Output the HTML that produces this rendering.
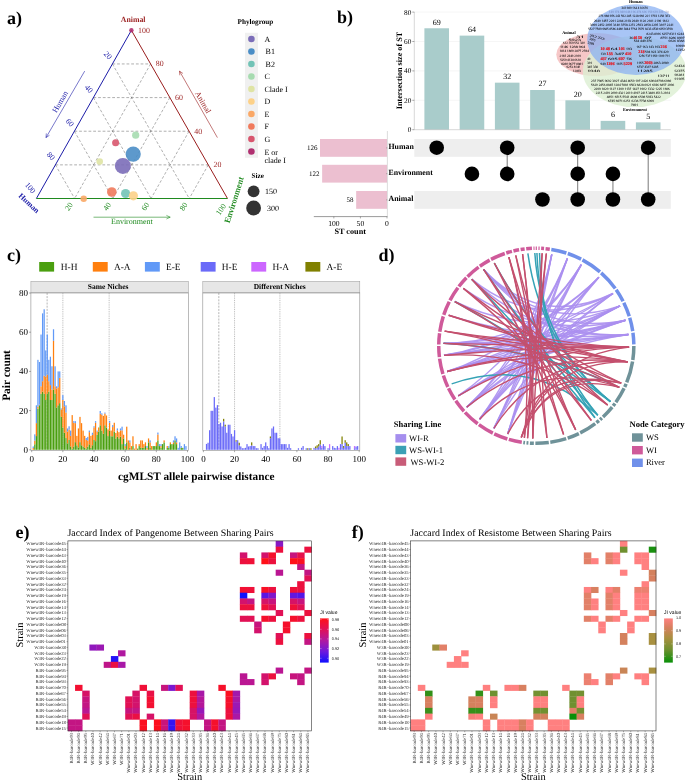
<!DOCTYPE html>
<html><head><meta charset="utf-8"><title>Figure</title>
<style>
html,body{margin:0;padding:0;background:#fff;}
body{width:685px;height:781px;overflow:hidden;font-family:"Liberation Serif",serif;}
svg{display:block;will-change:transform;}
text{text-rendering:geometricPrecision;}
text.s{font-family:"Liberation Serif",serif;}
text.n{font-family:"Liberation Sans",sans-serif;}
</style></head><body>
<svg width="685" height="781" viewBox="0 0 685 781">
<rect x="0" y="0" width="685" height="781" fill="#fff"/>
<g id="panel-a">
<text class="s" x="7.00" y="24.00" font-size="18" font-weight="bold">a)</text>
<line x1="55.40" y1="164.86" x2="208.28" y2="164.86" stroke="#6e6e6e" stroke-width="0.55" stroke-dasharray="2.8 1.9"/>
<line x1="112.40" y1="63.94" x2="189.28" y2="198.50" stroke="#6e6e6e" stroke-width="0.55" stroke-dasharray="2.8 1.9"/>
<line x1="150.62" y1="63.94" x2="74.62" y2="198.50" stroke="#6e6e6e" stroke-width="0.55" stroke-dasharray="2.8 1.9"/>
<line x1="74.40" y1="131.22" x2="189.06" y2="131.22" stroke="#6e6e6e" stroke-width="0.55" stroke-dasharray="2.8 1.9"/>
<line x1="93.40" y1="97.58" x2="151.06" y2="198.50" stroke="#6e6e6e" stroke-width="0.55" stroke-dasharray="2.8 1.9"/>
<line x1="169.84" y1="97.58" x2="112.84" y2="198.50" stroke="#6e6e6e" stroke-width="0.55" stroke-dasharray="2.8 1.9"/>
<line x1="93.40" y1="97.58" x2="169.84" y2="97.58" stroke="#6e6e6e" stroke-width="0.55" stroke-dasharray="2.8 1.9"/>
<line x1="74.40" y1="131.22" x2="112.84" y2="198.50" stroke="#6e6e6e" stroke-width="0.55" stroke-dasharray="2.8 1.9"/>
<line x1="189.06" y1="131.22" x2="151.06" y2="198.50" stroke="#6e6e6e" stroke-width="0.55" stroke-dasharray="2.8 1.9"/>
<line x1="112.40" y1="63.94" x2="150.62" y2="63.94" stroke="#6e6e6e" stroke-width="0.55" stroke-dasharray="2.8 1.9"/>
<line x1="55.40" y1="164.86" x2="74.62" y2="198.50" stroke="#6e6e6e" stroke-width="0.55" stroke-dasharray="2.8 1.9"/>
<line x1="208.28" y1="164.86" x2="189.28" y2="198.50" stroke="#6e6e6e" stroke-width="0.55" stroke-dasharray="2.8 1.9"/>
<line x1="36.4" y1="198.5" x2="131.4" y2="30.3" stroke="#1c1ca8" stroke-width="1.0"/>
<line x1="131.4" y1="30.3" x2="227.5" y2="198.5" stroke="#9a1e1e" stroke-width="1.0"/>
<line x1="36.4" y1="198.5" x2="227.5" y2="198.5" stroke="#1f8a1f" stroke-width="1.0"/>
<text class="s" x="107.80" y="55.34" font-size="7.9" text-anchor="middle" fill="#1c1ca8" transform="rotate(50.00 107.80 55.34)" dominant-baseline="central">20</text>
<text class="s" x="88.80" y="88.98" font-size="7.9" text-anchor="middle" fill="#1c1ca8" transform="rotate(50.00 88.80 88.98)" dominant-baseline="central">40</text>
<text class="s" x="69.80" y="122.62" font-size="7.9" text-anchor="middle" fill="#1c1ca8" transform="rotate(50.00 69.80 122.62)" dominant-baseline="central">60</text>
<text class="s" x="50.80" y="156.26" font-size="7.9" text-anchor="middle" fill="#1c1ca8" transform="rotate(50.00 50.80 156.26)" dominant-baseline="central">80</text>
<text class="s" x="30.20" y="188.00" font-size="7.9" text-anchor="middle" fill="#1c1ca8" transform="rotate(50.00 30.20 188.00)" dominant-baseline="central">100</text>
<text class="s" x="138.00" y="32.60" font-size="7.9" fill="#9a1e1e">100</text>
<text class="s" x="155.82" y="66.24" font-size="7.9" fill="#9a1e1e">80</text>
<text class="s" x="175.04" y="99.88" font-size="7.9" fill="#9a1e1e">60</text>
<text class="s" x="194.26" y="133.52" font-size="7.9" fill="#9a1e1e">40</text>
<text class="s" x="213.48" y="167.16" font-size="7.9" fill="#9a1e1e">20</text>
<text class="s" x="69.02" y="206.70" font-size="7.9" text-anchor="middle" fill="#1f8a1f" transform="rotate(-56.00 69.02 206.70)" dominant-baseline="central">20</text>
<text class="s" x="107.24" y="206.70" font-size="7.9" text-anchor="middle" fill="#1f8a1f" transform="rotate(-56.00 107.24 206.70)" dominant-baseline="central">40</text>
<text class="s" x="145.46" y="206.70" font-size="7.9" text-anchor="middle" fill="#1f8a1f" transform="rotate(-56.00 145.46 206.70)" dominant-baseline="central">60</text>
<text class="s" x="183.68" y="206.70" font-size="7.9" text-anchor="middle" fill="#1f8a1f" transform="rotate(-56.00 183.68 206.70)" dominant-baseline="central">80</text>
<text class="s" x="221.10" y="209.50" font-size="7.9" text-anchor="middle" fill="#1f8a1f" transform="rotate(-56.00 221.10 209.50)" dominant-baseline="central">100</text>
<text class="s" x="133.20" y="19.20" font-size="7.8" font-weight="bold" text-anchor="middle" fill="#9a1e1e" dominant-baseline="central">Animal</text>
<text class="s" x="29.00" y="203.20" font-size="7.8" font-weight="bold" text-anchor="middle" fill="#1c1ca8" transform="rotate(43.00 29.00 203.20)" dominant-baseline="central">Human</text>
<text class="s" x="233.90" y="199.80" font-size="8.5" font-weight="bold" text-anchor="middle" fill="#1f8a1f" transform="rotate(-72.50 233.90 199.80)" dominant-baseline="central">Environment</text>
<line x1="84.70" y1="71.10" x2="46.00" y2="137.60" stroke="#1c1ca8" stroke-width="0.6"/>
<line x1="46.00" y1="137.60" x2="49.48" y2="135.25" stroke="#1c1ca8" stroke-width="0.55"/>
<line x1="46.00" y1="137.60" x2="46.32" y2="133.41" stroke="#1c1ca8" stroke-width="0.55"/>
<text class="s" x="60.30" y="101.80" font-size="8.0" text-anchor="middle" fill="#1c1ca8" transform="rotate(-60.00 60.30 101.80)" dominant-baseline="central">Human</text>
<line x1="217.40" y1="137.60" x2="179.50" y2="71.10" stroke="#9a1e1e" stroke-width="0.6"/>
<line x1="179.50" y1="71.10" x2="179.79" y2="75.29" stroke="#9a1e1e" stroke-width="0.55"/>
<line x1="179.50" y1="71.10" x2="182.96" y2="73.48" stroke="#9a1e1e" stroke-width="0.55"/>
<text class="s" x="203.00" y="102.40" font-size="8.0" text-anchor="middle" fill="#9a1e1e" transform="rotate(60.00 203.00 102.40)" dominant-baseline="central">Animal</text>
<line x1="93.50" y1="217.20" x2="170.20" y2="217.20" stroke="#1f8a1f" stroke-width="0.6"/>
<line x1="170.20" y1="217.20" x2="166.42" y2="215.37" stroke="#1f8a1f" stroke-width="0.55"/>
<line x1="170.20" y1="217.20" x2="166.42" y2="219.03" stroke="#1f8a1f" stroke-width="0.55"/>
<text class="s" x="131.90" y="221.90" font-size="8.0" text-anchor="middle" fill="#1f8a1f" dominant-baseline="central">Environment</text>
<circle cx="131.4" cy="30.30" r="2.2" fill="#b03070" fill-opacity="0.9"/>
<circle cx="135.7" cy="135.20" r="3.6" fill="#a6dbb0" fill-opacity="0.9"/>
<circle cx="115.6" cy="142.80" r="3.5" fill="#d8566e" fill-opacity="0.9"/>
<circle cx="99.7" cy="161.60" r="3.3" fill="#dfe4a4" fill-opacity="0.9"/>
<circle cx="133.2" cy="154.10" r="7.6" fill="#4b8ec6" fill-opacity="0.9"/>
<circle cx="122.9" cy="165.90" r="8.0" fill="#7b6db8" fill-opacity="0.9"/>
<circle cx="111.8" cy="192.00" r="4.8" fill="#f07a5c" fill-opacity="0.9"/>
<circle cx="125.6" cy="193.50" r="4.6" fill="#72c3b6" fill-opacity="0.9"/>
<circle cx="133.4" cy="195.80" r="4.6" fill="#fdd188" fill-opacity="0.9"/>
<circle cx="83.7" cy="198.80" r="3.2" fill="#faa866" fill-opacity="0.9"/>
<text class="s" x="237.50" y="24.30" font-size="7.2" font-weight="bold">Phylogroup</text>
<rect x="245" y="32.8" width="13" height="125" fill="#f0f0f0"/>
<circle cx="251.4" cy="39.00" r="3.3" fill="#7b6db8"/>
<text class="s" x="264.40" y="41.60" font-size="8">A</text>
<circle cx="251.4" cy="51.50" r="3.3" fill="#4b8ec6"/>
<text class="s" x="265.60" y="54.10" font-size="8">B1</text>
<circle cx="251.4" cy="64.00" r="3.3" fill="#72c3b6"/>
<text class="s" x="265.60" y="66.60" font-size="8">B2</text>
<circle cx="251.4" cy="76.50" r="3.3" fill="#a6dbb0"/>
<text class="s" x="264.40" y="79.10" font-size="8">C</text>
<circle cx="251.4" cy="89.00" r="3.3" fill="#dfe4a4"/>
<text class="s" x="264.40" y="91.60" font-size="8">Clade I</text>
<circle cx="251.4" cy="101.50" r="3.3" fill="#fdd188"/>
<text class="s" x="264.40" y="104.10" font-size="8">D</text>
<circle cx="251.4" cy="114.00" r="3.3" fill="#faa866"/>
<text class="s" x="264.40" y="116.60" font-size="8">E</text>
<circle cx="251.4" cy="126.50" r="3.3" fill="#f07a5c"/>
<text class="s" x="264.40" y="129.10" font-size="8">F</text>
<circle cx="251.4" cy="139.00" r="3.3" fill="#d8566e"/>
<text class="s" x="264.40" y="141.60" font-size="8">G</text>
<circle cx="251.4" cy="151.50" r="3.3" fill="#b03070"/>
<text class="s" x="264.40" y="155.00" font-size="8">E or</text>
<text class="s" x="264.40" y="162.50" font-size="8">clade I</text>
<text class="s" x="251.60" y="178.40" font-size="7.2" font-weight="bold">Size</text>
<circle cx="253.6" cy="191.3" r="5.9" fill="#333"/>
<circle cx="253.6" cy="208.0" r="7.4" fill="#333"/>
<text class="s" x="265.00" y="194.00" font-size="8">150</text>
<text class="s" x="267.00" y="210.70" font-size="8">300</text>
</g>
<g id="panel-b">
<text class="s" x="337.00" y="22.90" font-size="18" font-weight="bold">b)</text>
<line x1="414.3" y1="100.30" x2="670.8" y2="100.30" stroke="#ececec" stroke-width="0.5"/>
<line x1="414.3" y1="70.90" x2="670.8" y2="70.90" stroke="#ececec" stroke-width="0.5"/>
<line x1="414.3" y1="41.50" x2="670.8" y2="41.50" stroke="#ececec" stroke-width="0.5"/>
<line x1="414.3" y1="12.10" x2="670.8" y2="12.10" stroke="#ececec" stroke-width="0.5"/>
<rect x="424.40" y="28.27" width="24.6" height="101.43" fill="#a9cccb"/>
<text class="s" x="436.70" y="24.67" font-size="8.0" text-anchor="middle">69</text>
<rect x="459.65" y="35.62" width="24.6" height="94.08" fill="#a9cccb"/>
<text class="s" x="471.95" y="32.02" font-size="8.0" text-anchor="middle">64</text>
<rect x="494.90" y="82.66" width="24.6" height="47.04" fill="#a9cccb"/>
<text class="s" x="507.20" y="79.06" font-size="8.0" text-anchor="middle">32</text>
<rect x="530.15" y="90.01" width="24.6" height="39.69" fill="#a9cccb"/>
<text class="s" x="542.45" y="86.41" font-size="8.0" text-anchor="middle">27</text>
<rect x="565.40" y="100.30" width="24.6" height="29.40" fill="#a9cccb"/>
<text class="s" x="577.70" y="96.70" font-size="8.0" text-anchor="middle">20</text>
<rect x="600.65" y="120.88" width="24.6" height="8.82" fill="#a9cccb"/>
<text class="s" x="612.95" y="117.28" font-size="8.0" text-anchor="middle">6</text>
<rect x="635.90" y="122.35" width="24.6" height="7.35" fill="#a9cccb"/>
<text class="s" x="648.20" y="118.75" font-size="8.0" text-anchor="middle">5</text>
<line x1="414.3" y1="12" x2="414.3" y2="129.7" stroke="#bdbdbd" stroke-width="0.6"/>
<line x1="414.3" y1="129.7" x2="670.8" y2="129.7" stroke="#bdbdbd" stroke-width="0.6"/>
<line x1="412.3" y1="129.70" x2="414.3" y2="129.70" stroke="#555" stroke-width="0.5"/>
<text class="s" x="411.40" y="132.10" font-size="7.3" text-anchor="end">0</text>
<line x1="412.3" y1="100.30" x2="414.3" y2="100.30" stroke="#555" stroke-width="0.5"/>
<text class="s" x="411.40" y="102.70" font-size="7.3" text-anchor="end">20</text>
<line x1="412.3" y1="70.90" x2="414.3" y2="70.90" stroke="#555" stroke-width="0.5"/>
<text class="s" x="411.40" y="73.30" font-size="7.3" text-anchor="end">40</text>
<line x1="412.3" y1="41.50" x2="414.3" y2="41.50" stroke="#555" stroke-width="0.5"/>
<text class="s" x="411.40" y="43.90" font-size="7.3" text-anchor="end">60</text>
<line x1="412.3" y1="12.10" x2="414.3" y2="12.10" stroke="#555" stroke-width="0.5"/>
<text class="s" x="411.40" y="14.50" font-size="7.3" text-anchor="end">80</text>
<text class="s" x="399.60" y="70.50" font-size="8.2" font-weight="bold" text-anchor="middle" transform="rotate(-90.00 399.60 70.50)" dominant-baseline="central">Intersection size of ST</text>
<rect x="414.3" y="139" width="256.5" height="17.8" fill="#eeeeee"/>
<rect x="414.3" y="191" width="256.5" height="17.8" fill="#eeeeee"/>
<circle cx="436.70" cy="147.7" r="7.3" fill="#000"/>
<circle cx="471.95" cy="173.9" r="7.3" fill="#000"/>
<line x1="507.20" y1="147.7" x2="507.20" y2="173.9" stroke="#555" stroke-width="0.8"/>
<circle cx="507.20" cy="147.7" r="7.3" fill="#000"/>
<circle cx="507.20" cy="173.9" r="7.3" fill="#000"/>
<circle cx="542.45" cy="199.5" r="7.3" fill="#000"/>
<line x1="577.70" y1="147.7" x2="577.70" y2="199.5" stroke="#555" stroke-width="0.8"/>
<circle cx="577.70" cy="147.7" r="7.3" fill="#000"/>
<circle cx="577.70" cy="173.9" r="7.3" fill="#000"/>
<circle cx="577.70" cy="199.5" r="7.3" fill="#000"/>
<line x1="612.95" y1="173.9" x2="612.95" y2="199.5" stroke="#555" stroke-width="0.8"/>
<circle cx="612.95" cy="173.9" r="7.3" fill="#000"/>
<circle cx="612.95" cy="199.5" r="7.3" fill="#000"/>
<line x1="648.20" y1="147.7" x2="648.20" y2="199.5" stroke="#555" stroke-width="0.8"/>
<circle cx="648.20" cy="147.7" r="7.3" fill="#000"/>
<circle cx="648.20" cy="199.5" r="7.3" fill="#000"/>
<rect x="320.01" y="139.0" width="66.99" height="17.8" fill="#ecbfd0"/>
<text class="s" x="317.41" y="150.30" font-size="7" text-anchor="end">126</text>
<line x1="386.0" y1="147.9" x2="387.8" y2="147.9" stroke="#777" stroke-width="0.5"/>
<text class="s" x="388.50" y="148.90" font-size="7.85" font-weight="bold">Human</text>
<rect x="322.13" y="164.8" width="64.87" height="17.8" fill="#ecbfd0"/>
<text class="s" x="319.53" y="176.10" font-size="7" text-anchor="end">122</text>
<line x1="386.0" y1="173.70000000000002" x2="387.8" y2="173.70000000000002" stroke="#777" stroke-width="0.5"/>
<text class="s" x="388.50" y="174.70" font-size="7.85" font-weight="bold">Environment</text>
<rect x="356.16" y="191.0" width="30.84" height="17.8" fill="#ecbfd0"/>
<text class="s" x="353.56" y="202.30" font-size="7" text-anchor="end">58</text>
<line x1="386.0" y1="199.9" x2="387.8" y2="199.9" stroke="#777" stroke-width="0.5"/>
<text class="s" x="388.50" y="200.90" font-size="7.85" font-weight="bold">Animal</text>
<line x1="387.4" y1="131" x2="387.4" y2="216.6" stroke="#cfcfcf" stroke-width="0.7"/>
<line x1="313.8" y1="216.6" x2="387.4" y2="216.6" stroke="#555" stroke-width="0.6"/>
<line x1="387.00" y1="216.6" x2="387.00" y2="218.4" stroke="#555" stroke-width="0.5"/>
<text class="s" x="387.00" y="225.70" font-size="7.6" text-anchor="middle">0</text>
<line x1="360.42" y1="216.6" x2="360.42" y2="218.4" stroke="#555" stroke-width="0.5"/>
<text class="s" x="360.42" y="225.70" font-size="7.6" text-anchor="middle">50</text>
<line x1="333.83" y1="216.6" x2="333.83" y2="218.4" stroke="#555" stroke-width="0.5"/>
<text class="s" x="333.83" y="225.70" font-size="7.6" text-anchor="middle">100</text>
<text class="s" x="350.20" y="233.60" font-size="8.2" font-weight="bold" text-anchor="middle">ST count</text>
<g id="venn">
<ellipse cx="596.9" cy="54.6" rx="40.6" ry="21.6" fill="#f4b9b9" fill-opacity="0.8"/>
<ellipse cx="634.6" cy="71.5" rx="51.8" ry="35.6" fill="#dcefd2" fill-opacity="0.8"/>
<ellipse cx="636.0" cy="39.6" rx="48.8" ry="35.4" fill="#86aef3" fill-opacity="0.72"/>
<text class="s" x="635.80" y="2.90" font-size="4.25" font-weight="bold" text-anchor="middle">Human</text>
<text class="s" x="568.90" y="33.50" font-size="4.25" font-weight="bold" text-anchor="middle">Animal</text>
<text class="s" x="635.00" y="111.40" font-size="4.25" font-weight="bold" text-anchor="middle">Environment</text>
<text class="s" x="621.40" y="8.67" font-size="3.25" textLength="26.60" lengthAdjust="spacingAndGlyphs" stroke="#000" stroke-width="0.04">341 980 164 414 676</text>
<text class="s" x="609.00" y="12.87" font-size="3.25" fill="#44508c" textLength="59.90" lengthAdjust="spacingAndGlyphs" stroke="#44508c" stroke-width="0.04" opacity="0.5">149 174 940 648 196 474 696 159 619 319 138</text>
<text class="s" x="598.60" y="17.17" font-size="3.25" textLength="71.20" lengthAdjust="spacingAndGlyphs" stroke="#000" stroke-width="0.04">276 988 956 243 592 285 1228 969 221 1793 1258 353</text>
<text class="s" x="593.90" y="21.57" font-size="3.25" textLength="75.00" lengthAdjust="spacingAndGlyphs" stroke="#000" stroke-width="0.04">2940 1457 2291 2284 2193 2940 1126 2181 2199 1812</text>
<text class="s" x="590.10" y="26.07" font-size="3.25" textLength="83.50" lengthAdjust="spacingAndGlyphs" stroke="#000" stroke-width="0.04">3999 2452 2095 3140 3758 2272 2593 2858 2295 3107 2241</text>
<text class="s" x="588.20" y="30.47" font-size="3.25" textLength="84.40" lengthAdjust="spacingAndGlyphs" stroke="#000" stroke-width="0.04">5527 7589 9685 8586 4480 3844 7764 7679 8233 4539 6050 3798</text>
<text class="s" x="646.50" y="34.87" font-size="3.25" textLength="37.50" lengthAdjust="spacingAndGlyphs" stroke="#000" stroke-width="0.04">8243 8916 6257 8311 6244</text>
<text class="s" x="629.50" y="38.77" font-size="3.25" textLength="3.50" lengthAdjust="spacingAndGlyphs" stroke="#000" stroke-width="0.04">36</text>
<text class="s" x="644.50" y="38.77" font-size="3.25" textLength="7.00" lengthAdjust="spacingAndGlyphs" stroke="#000" stroke-width="0.04">97</text>
<text class="s" x="660.50" y="38.77" font-size="3.25" textLength="24.00" lengthAdjust="spacingAndGlyphs" stroke="#000" stroke-width="0.04">8751 8286 8907</text>
<text class="s" x="633.70" y="42.47" font-size="3.25" textLength="18.30" lengthAdjust="spacingAndGlyphs" stroke="#000" stroke-width="0.04">534 440 376</text>
<text class="s" x="668.50" y="42.47" font-size="3.25" textLength="16.00" lengthAdjust="spacingAndGlyphs" stroke="#000" stroke-width="0.04">9626 8368</text>
<text class="s" x="675.50" y="46.57" font-size="3.25" textLength="9.50" lengthAdjust="spacingAndGlyphs" stroke="#000" stroke-width="0.04">10999</text>
<text class="s" x="675.50" y="50.77" font-size="3.25" textLength="9.50" lengthAdjust="spacingAndGlyphs" stroke="#000" stroke-width="0.04">12352</text>
<text class="s" x="633.20" y="38.99" font-size="3.9" font-weight="bold" fill="#e8141c" stroke="#e8141c" stroke-width="0.18">46 58</text>
<text class="s" x="636.20" y="47.57" font-size="3.25" textLength="23.80" lengthAdjust="spacingAndGlyphs" stroke="#000" stroke-width="0.04">167 163 143 193</text>
<text class="s" x="660.60" y="47.89" font-size="4.2" font-weight="bold" fill="#e8141c" stroke="#e8141c" stroke-width="0.18">216</text>
<text class="s" x="638.30" y="52.99" font-size="4.2" font-weight="bold" fill="#e8141c" stroke="#e8141c" stroke-width="0.18">218</text>
<text class="s" x="645.00" y="52.67" font-size="3.25" textLength="23.50" lengthAdjust="spacingAndGlyphs" stroke="#000" stroke-width="0.04">594 923 374 420</text>
<text class="s" x="638.50" y="57.47" font-size="3.25" textLength="31.30" lengthAdjust="spacingAndGlyphs" stroke="#000" stroke-width="0.04">1256 737 1950 1100 711</text>
<text class="s" x="637.00" y="63.67" font-size="3.25" textLength="6.50" lengthAdjust="spacingAndGlyphs" stroke="#000" stroke-width="0.04">1955</text>
<text class="s" x="644.20" y="63.99" font-size="4.2" font-weight="bold" fill="#e8141c" stroke="#e8141c" stroke-width="0.18">2003</text>
<text class="s" x="653.50" y="63.67" font-size="3.25" textLength="15.00" lengthAdjust="spacingAndGlyphs" stroke="#000" stroke-width="0.04">2863 2080</text>
<text class="s" x="637.00" y="67.87" font-size="3.25" textLength="21.40" lengthAdjust="spacingAndGlyphs" stroke="#000" stroke-width="0.04">6737 4317 6285</text>
<text class="s" x="637.00" y="72.27" font-size="3.25" textLength="15.70" lengthAdjust="spacingAndGlyphs" stroke="#000" stroke-width="0.04">11285</text>
<text class="s" x="657.50" y="76.97" font-size="3.25" textLength="12.30" lengthAdjust="spacingAndGlyphs" stroke="#000" stroke-width="0.04">13711</text>
<text class="s" x="674.00" y="67.27" font-size="3.25" textLength="10.50" lengthAdjust="spacingAndGlyphs" stroke="#000" stroke-width="0.04">12434</text>
<text class="s" x="674.00" y="71.67" font-size="3.25" textLength="10.50" lengthAdjust="spacingAndGlyphs" stroke="#000" stroke-width="0.04">12375</text>
<text class="s" x="674.00" y="75.87" font-size="3.25" textLength="10.50" lengthAdjust="spacingAndGlyphs" stroke="#000" stroke-width="0.04">10281</text>
<text class="s" x="674.00" y="79.67" font-size="3.25" textLength="10.50" lengthAdjust="spacingAndGlyphs" stroke="#000" stroke-width="0.04">11105</text>
<text class="s" x="600.40" y="50.09" font-size="4.2" font-weight="bold" fill="#e8141c" stroke="#e8141c" stroke-width="0.18">10 48</text>
<text class="s" x="610.80" y="49.77" font-size="3.25" textLength="6.80" lengthAdjust="spacingAndGlyphs" stroke="#000" stroke-width="0.04">64</text>
<text class="s" x="618.60" y="50.09" font-size="4.2" font-weight="bold" fill="#e8141c" stroke="#e8141c" stroke-width="0.18">101</text>
<text class="s" x="626.00" y="49.77" font-size="3.25" textLength="6.00" lengthAdjust="spacingAndGlyphs" stroke="#000" stroke-width="0.04">193</text>
<text class="s" x="600.60" y="54.57" font-size="3.25" textLength="5.00" lengthAdjust="spacingAndGlyphs" stroke="#000" stroke-width="0.04">139</text>
<text class="s" x="606.60" y="54.89" font-size="4.2" font-weight="bold" fill="#e8141c" stroke="#e8141c" stroke-width="0.18">155</text>
<text class="s" x="614.40" y="54.57" font-size="3.25" textLength="9.80" lengthAdjust="spacingAndGlyphs" stroke="#000" stroke-width="0.04">347</text>
<text class="s" x="625.00" y="54.89" font-size="4.2" font-weight="bold" fill="#e8141c" stroke="#e8141c" stroke-width="0.18">410</text>
<text class="s" x="600.40" y="60.29" font-size="4.2" font-weight="bold" fill="#e8141c" stroke="#e8141c" stroke-width="0.18">457</text>
<text class="s" x="608.00" y="59.97" font-size="3.25" textLength="9.60" lengthAdjust="spacingAndGlyphs" stroke="#000" stroke-width="0.04">605</text>
<text class="s" x="618.60" y="60.29" font-size="4.2" font-weight="bold" fill="#e8141c" stroke="#e8141c" stroke-width="0.18">607</text>
<text class="s" x="626.40" y="59.97" font-size="3.25" textLength="5.60" lengthAdjust="spacingAndGlyphs" stroke="#000" stroke-width="0.04">736</text>
<text class="s" x="600.60" y="65.07" font-size="3.25" textLength="5.00" lengthAdjust="spacingAndGlyphs" stroke="#000" stroke-width="0.04">949</text>
<text class="s" x="606.40" y="65.39" font-size="4.2" font-weight="bold" fill="#e8141c" stroke="#e8141c" stroke-width="0.18">1196</text>
<text class="s" x="616.20" y="65.07" font-size="3.25" textLength="6.40" lengthAdjust="spacingAndGlyphs" stroke="#000" stroke-width="0.04">1655</text>
<text class="s" x="623.60" y="65.39" font-size="4.2" font-weight="bold" fill="#e8141c" stroke="#e8141c" stroke-width="0.18">5229</text>
<text class="s" x="576.30" y="37.67" font-size="3.25" textLength="8.10" lengthAdjust="spacingAndGlyphs" stroke="#000" stroke-width="0.04">31</text>
<text class="s" x="568.40" y="40.97" font-size="3.25" textLength="12.50" lengthAdjust="spacingAndGlyphs" stroke="#000" stroke-width="0.04">5923</text>
<text class="s" x="563.10" y="44.17" font-size="3.25" textLength="21.70" lengthAdjust="spacingAndGlyphs" stroke="#000" stroke-width="0.04">612 359 552 330</text>
<text class="s" x="559.90" y="47.67" font-size="3.25" textLength="25.30" lengthAdjust="spacingAndGlyphs" stroke="#000" stroke-width="0.04">1146 1288 964</text>
<text class="s" x="559.50" y="52.37" font-size="3.25" textLength="29.30" lengthAdjust="spacingAndGlyphs" stroke="#000" stroke-width="0.04">1814 1800 2877 2784</text>
<text class="s" x="559.50" y="56.67" font-size="3.25" textLength="21.40" lengthAdjust="spacingAndGlyphs" stroke="#000" stroke-width="0.04">2165 2340 2919</text>
<text class="s" x="560.20" y="60.67" font-size="3.25" textLength="20.70" lengthAdjust="spacingAndGlyphs" stroke="#000" stroke-width="0.04">5250 4138 6618</text>
<text class="s" x="561.20" y="64.87" font-size="3.25" textLength="21.70" lengthAdjust="spacingAndGlyphs" stroke="#000" stroke-width="0.04">8280 9677 8881</text>
<text class="s" x="566.40" y="68.47" font-size="3.25" textLength="13.80" lengthAdjust="spacingAndGlyphs" stroke="#000" stroke-width="0.04">9253 8140</text>
<text class="s" x="573.00" y="72.07" font-size="3.25" textLength="7.90" lengthAdjust="spacingAndGlyphs" stroke="#000" stroke-width="0.04">12893</text>
<text class="s" x="589.60" y="36.27" font-size="3.25" transform="rotate(14.00 589.60 36.27)" textLength="15.20" lengthAdjust="spacingAndGlyphs" stroke="#000" stroke-width="0.04">252 223</text>
<text class="s" x="589.40" y="39.87" font-size="3.25" transform="rotate(14.00 589.40 39.87)" textLength="5.90" lengthAdjust="spacingAndGlyphs" stroke="#000" stroke-width="0.04">2905</text>
<text class="s" x="587.50" y="43.57" font-size="3.25" transform="rotate(14.00 587.50 43.57)" textLength="6.50" lengthAdjust="spacingAndGlyphs" stroke="#000" stroke-width="0.04">3389</text>
<text class="s" x="587.20" y="59.57" font-size="3.25" textLength="3.20" lengthAdjust="spacingAndGlyphs" stroke="#000" stroke-width="0.04">49</text>
<text class="s" x="587.20" y="63.77" font-size="3.25" textLength="5.00" lengthAdjust="spacingAndGlyphs" stroke="#000" stroke-width="0.04">319</text>
<text class="s" x="587.20" y="67.87" font-size="3.25" textLength="10.80" lengthAdjust="spacingAndGlyphs" stroke="#000" stroke-width="0.04">345 338</text>
<text class="s" x="587.20" y="72.07" font-size="3.25" textLength="12.70" lengthAdjust="spacingAndGlyphs" stroke="#000" stroke-width="0.04">1948</text>
<text class="s" x="591.00" y="81.67" font-size="3.25" textLength="80.10" lengthAdjust="spacingAndGlyphs" stroke="#000" stroke-width="0.04">237 7985 9692 3027 4344 4659 107 2426 6904 8798 6089</text>
<text class="s" x="591.00" y="86.07" font-size="3.25" textLength="83.20" lengthAdjust="spacingAndGlyphs" stroke="#000" stroke-width="0.04">5620 2456 8845 1284 7881 9563 6828 6921 6936 6857 2096</text>
<text class="s" x="593.90" y="89.87" font-size="3.25" textLength="75.90" lengthAdjust="spacingAndGlyphs" stroke="#000" stroke-width="0.04">2299 1820 1127 1390 1137 1427 1902 1332 1225 1696</text>
<text class="s" x="595.80" y="94.07" font-size="3.25" textLength="74.00" lengthAdjust="spacingAndGlyphs" stroke="#000" stroke-width="0.04">2215 2419 2000 4321 2619 4197 2415 3489 4513 2104</text>
<text class="s" x="606.80" y="97.97" font-size="3.25" textLength="54.00" lengthAdjust="spacingAndGlyphs" stroke="#000" stroke-width="0.04">4851 6515 5541 4608 6598 5033 5422</text>
<text class="s" x="608.00" y="102.27" font-size="3.25" textLength="46.00" lengthAdjust="spacingAndGlyphs" stroke="#000" stroke-width="0.04">6745 6971 6251 6236 7738 6999</text>
<text class="s" x="631.00" y="105.97" font-size="3.25" textLength="7.00" lengthAdjust="spacingAndGlyphs" stroke="#000" stroke-width="0.04">7491</text>
</g>
</g>
<g id="panel-c">
<text class="s" x="7.00" y="261.20" font-size="18" font-weight="bold">c)</text>
<rect x="39.2" y="262.0" width="14.9" height="9.6" fill="#4a9f0f"/>
<text class="s" x="60.80" y="270.20" font-size="9.4">H-H</text>
<rect x="92.8" y="262.0" width="14.9" height="9.6" fill="#ff7f0e"/>
<text class="s" x="113.90" y="270.20" font-size="9.4">A-A</text>
<rect x="144.9" y="262.0" width="14.9" height="9.6" fill="#6199f7"/>
<text class="s" x="166.00" y="270.20" font-size="9.4">E-E</text>
<rect x="200.7" y="262.0" width="14.9" height="9.6" fill="#6a6af8"/>
<text class="s" x="221.80" y="270.20" font-size="9.4">H-E</text>
<rect x="251.3" y="262.0" width="14.9" height="9.6" fill="#cc66ff"/>
<text class="s" x="272.40" y="270.20" font-size="9.4">H-A</text>
<rect x="305.4" y="262.0" width="14.9" height="9.6" fill="#808000"/>
<text class="s" x="326.50" y="270.20" font-size="9.4">A-E</text>
<rect x="30.9" y="281.3" width="157.6" height="11.6" fill="#e6e6e6" stroke="#9a9a9a" stroke-width="0.5"/>
<text class="s" x="108.10" y="288.60" font-size="7.5" font-weight="bold" text-anchor="middle">Same Niches</text>
<rect x="202.8" y="281.3" width="157.0" height="11.6" fill="#e6e6e6" stroke="#9a9a9a" stroke-width="0.5"/>
<text class="s" x="279.70" y="288.60" font-size="7.5" font-weight="bold" text-anchor="middle">Different Niches</text>
<line x1="47.12" y1="292.9" x2="47.12" y2="449.8" stroke="#888" stroke-width="0.6" stroke-dasharray="2 1.2"/>
<line x1="62.86" y1="292.9" x2="62.86" y2="449.8" stroke="#888" stroke-width="0.6" stroke-dasharray="0.9 0.9"/>
<line x1="109.13" y1="292.9" x2="109.13" y2="449.8" stroke="#888" stroke-width="0.6" stroke-dasharray="0.9 0.9"/>
<line x1="218.82" y1="292.9" x2="218.82" y2="449.8" stroke="#888" stroke-width="0.6" stroke-dasharray="2 1.2"/>
<line x1="234.56" y1="292.9" x2="234.56" y2="449.8" stroke="#888" stroke-width="0.6" stroke-dasharray="0.9 0.9"/>
<line x1="279.90" y1="292.9" x2="279.90" y2="449.8" stroke="#888" stroke-width="0.6" stroke-dasharray="0.9 0.9"/>
<rect x="32.63" y="448.04" width="1.25" height="1.76" fill="#ff7f0e"/>
<rect x="32.63" y="446.47" width="1.25" height="1.57" fill="#6199f7"/>
<rect x="34.19" y="444.31" width="1.25" height="5.49" fill="#4a9f0f"/>
<rect x="34.19" y="440.59" width="1.25" height="3.72" fill="#ff7f0e"/>
<rect x="34.19" y="434.32" width="1.25" height="6.27" fill="#6199f7"/>
<rect x="35.75" y="436.08" width="1.25" height="13.72" fill="#4a9f0f"/>
<rect x="35.75" y="423.14" width="1.25" height="12.94" fill="#ff7f0e"/>
<rect x="35.75" y="405.31" width="1.25" height="17.84" fill="#6199f7"/>
<rect x="37.31" y="408.64" width="1.25" height="41.16" fill="#4a9f0f"/>
<rect x="37.31" y="406.68" width="1.25" height="1.96" fill="#ff7f0e"/>
<rect x="37.31" y="359.84" width="1.25" height="46.84" fill="#6199f7"/>
<rect x="38.87" y="405.31" width="1.25" height="44.49" fill="#4a9f0f"/>
<rect x="38.87" y="404.72" width="1.25" height="0.59" fill="#ff7f0e"/>
<rect x="38.87" y="361.99" width="1.25" height="42.73" fill="#6199f7"/>
<rect x="40.42" y="393.74" width="1.25" height="56.06" fill="#4a9f0f"/>
<rect x="40.42" y="386.30" width="1.25" height="7.45" fill="#ff7f0e"/>
<rect x="40.42" y="334.55" width="1.25" height="51.74" fill="#6199f7"/>
<rect x="41.98" y="391.59" width="1.25" height="58.21" fill="#4a9f0f"/>
<rect x="41.98" y="381.20" width="1.25" height="10.39" fill="#ff7f0e"/>
<rect x="41.98" y="313.38" width="1.25" height="67.82" fill="#6199f7"/>
<rect x="43.54" y="393.74" width="1.25" height="56.06" fill="#4a9f0f"/>
<rect x="43.54" y="375.71" width="1.25" height="18.03" fill="#ff7f0e"/>
<rect x="43.54" y="309.27" width="1.25" height="66.44" fill="#6199f7"/>
<rect x="45.10" y="400.02" width="1.25" height="49.78" fill="#4a9f0f"/>
<rect x="45.10" y="376.69" width="1.25" height="23.32" fill="#ff7f0e"/>
<rect x="45.10" y="350.43" width="1.25" height="26.26" fill="#6199f7"/>
<rect x="46.66" y="393.74" width="1.25" height="56.06" fill="#4a9f0f"/>
<rect x="46.66" y="374.73" width="1.25" height="19.01" fill="#ff7f0e"/>
<rect x="46.66" y="334.55" width="1.25" height="40.18" fill="#6199f7"/>
<rect x="48.21" y="391.59" width="1.25" height="58.21" fill="#4a9f0f"/>
<rect x="48.21" y="381.20" width="1.25" height="10.39" fill="#ff7f0e"/>
<rect x="48.21" y="359.84" width="1.25" height="21.36" fill="#6199f7"/>
<rect x="49.77" y="400.02" width="1.25" height="49.78" fill="#4a9f0f"/>
<rect x="49.77" y="385.12" width="1.25" height="14.90" fill="#ff7f0e"/>
<rect x="49.77" y="356.70" width="1.25" height="28.42" fill="#6199f7"/>
<rect x="51.33" y="400.02" width="1.25" height="49.78" fill="#4a9f0f"/>
<rect x="51.33" y="389.43" width="1.25" height="10.58" fill="#ff7f0e"/>
<rect x="51.33" y="366.30" width="1.25" height="23.13" fill="#6199f7"/>
<rect x="52.89" y="389.43" width="1.25" height="60.37" fill="#4a9f0f"/>
<rect x="52.89" y="340.82" width="1.25" height="48.61" fill="#ff7f0e"/>
<rect x="52.89" y="329.26" width="1.25" height="11.56" fill="#6199f7"/>
<rect x="54.45" y="393.74" width="1.25" height="56.06" fill="#4a9f0f"/>
<rect x="54.45" y="386.30" width="1.25" height="7.45" fill="#ff7f0e"/>
<rect x="54.45" y="366.30" width="1.25" height="19.99" fill="#6199f7"/>
<rect x="56.00" y="407.46" width="1.25" height="42.34" fill="#4a9f0f"/>
<rect x="56.00" y="388.45" width="1.25" height="19.01" fill="#ff7f0e"/>
<rect x="56.00" y="386.30" width="1.25" height="2.16" fill="#6199f7"/>
<rect x="57.56" y="405.31" width="1.25" height="44.49" fill="#4a9f0f"/>
<rect x="57.56" y="387.28" width="1.25" height="18.03" fill="#ff7f0e"/>
<rect x="57.56" y="371.40" width="1.25" height="15.88" fill="#6199f7"/>
<rect x="59.12" y="403.15" width="1.25" height="46.65" fill="#4a9f0f"/>
<rect x="59.12" y="377.87" width="1.25" height="25.28" fill="#ff7f0e"/>
<rect x="59.12" y="371.40" width="1.25" height="6.47" fill="#6199f7"/>
<rect x="60.68" y="416.87" width="1.25" height="32.93" fill="#4a9f0f"/>
<rect x="60.68" y="409.42" width="1.25" height="7.45" fill="#ff7f0e"/>
<rect x="60.68" y="408.44" width="1.25" height="0.98" fill="#6199f7"/>
<rect x="62.23" y="427.46" width="1.25" height="22.34" fill="#4a9f0f"/>
<rect x="62.23" y="400.02" width="1.25" height="27.44" fill="#ff7f0e"/>
<rect x="62.23" y="395.12" width="1.25" height="4.90" fill="#6199f7"/>
<rect x="63.79" y="432.75" width="1.25" height="17.05" fill="#4a9f0f"/>
<rect x="63.79" y="406.29" width="1.25" height="26.46" fill="#ff7f0e"/>
<rect x="63.79" y="401.00" width="1.25" height="5.29" fill="#6199f7"/>
<rect x="65.35" y="438.04" width="1.25" height="11.76" fill="#4a9f0f"/>
<rect x="65.35" y="412.56" width="1.25" height="25.48" fill="#ff7f0e"/>
<rect x="65.35" y="405.31" width="1.25" height="7.25" fill="#6199f7"/>
<rect x="66.91" y="443.33" width="1.25" height="6.47" fill="#4a9f0f"/>
<rect x="66.91" y="431.57" width="1.25" height="11.76" fill="#ff7f0e"/>
<rect x="66.91" y="428.44" width="1.25" height="3.14" fill="#6199f7"/>
<rect x="68.47" y="440.00" width="1.25" height="9.80" fill="#4a9f0f"/>
<rect x="68.47" y="429.61" width="1.25" height="10.39" fill="#ff7f0e"/>
<rect x="68.47" y="426.28" width="1.25" height="3.33" fill="#6199f7"/>
<rect x="70.03" y="446.47" width="1.25" height="3.33" fill="#4a9f0f"/>
<rect x="70.03" y="435.88" width="1.25" height="10.58" fill="#ff7f0e"/>
<rect x="70.03" y="430.59" width="1.25" height="5.29" fill="#6199f7"/>
<rect x="71.58" y="448.62" width="1.25" height="1.18" fill="#4a9f0f"/>
<rect x="71.58" y="415.11" width="1.25" height="33.52" fill="#ff7f0e"/>
<rect x="73.14" y="446.47" width="1.25" height="3.33" fill="#4a9f0f"/>
<rect x="73.14" y="422.75" width="1.25" height="23.72" fill="#ff7f0e"/>
<rect x="73.14" y="421.18" width="1.25" height="1.57" fill="#6199f7"/>
<rect x="74.70" y="442.16" width="1.25" height="7.64" fill="#4a9f0f"/>
<rect x="74.70" y="423.14" width="1.25" height="19.01" fill="#ff7f0e"/>
<rect x="74.70" y="421.18" width="1.25" height="1.96" fill="#6199f7"/>
<rect x="76.26" y="445.29" width="1.25" height="4.51" fill="#4a9f0f"/>
<rect x="76.26" y="435.88" width="1.25" height="9.41" fill="#ff7f0e"/>
<rect x="77.81" y="447.45" width="1.25" height="2.35" fill="#4a9f0f"/>
<rect x="77.81" y="428.44" width="1.25" height="19.01" fill="#ff7f0e"/>
<rect x="79.37" y="442.16" width="1.25" height="7.64" fill="#4a9f0f"/>
<rect x="79.37" y="416.87" width="1.25" height="25.28" fill="#ff7f0e"/>
<rect x="80.93" y="445.29" width="1.25" height="4.51" fill="#4a9f0f"/>
<rect x="80.93" y="423.14" width="1.25" height="22.15" fill="#ff7f0e"/>
<rect x="82.49" y="446.47" width="1.25" height="3.33" fill="#4a9f0f"/>
<rect x="82.49" y="430.59" width="1.25" height="15.88" fill="#ff7f0e"/>
<rect x="84.05" y="447.84" width="1.25" height="1.96" fill="#4a9f0f"/>
<rect x="84.05" y="435.88" width="1.25" height="11.96" fill="#ff7f0e"/>
<rect x="85.61" y="448.62" width="1.25" height="1.18" fill="#4a9f0f"/>
<rect x="85.61" y="440.00" width="1.25" height="8.62" fill="#ff7f0e"/>
<rect x="85.61" y="438.04" width="1.25" height="1.96" fill="#6199f7"/>
<rect x="87.16" y="446.66" width="1.25" height="3.14" fill="#4a9f0f"/>
<rect x="87.16" y="440.59" width="1.25" height="6.08" fill="#ff7f0e"/>
<rect x="87.16" y="436.86" width="1.25" height="3.72" fill="#6199f7"/>
<rect x="88.72" y="444.31" width="1.25" height="5.49" fill="#4a9f0f"/>
<rect x="88.72" y="432.16" width="1.25" height="12.15" fill="#ff7f0e"/>
<rect x="88.72" y="430.59" width="1.25" height="1.57" fill="#6199f7"/>
<rect x="90.28" y="447.84" width="1.25" height="1.96" fill="#4a9f0f"/>
<rect x="90.28" y="435.88" width="1.25" height="11.96" fill="#ff7f0e"/>
<rect x="91.84" y="445.29" width="1.25" height="4.51" fill="#4a9f0f"/>
<rect x="91.84" y="434.90" width="1.25" height="10.39" fill="#ff7f0e"/>
<rect x="91.84" y="432.75" width="1.25" height="2.16" fill="#6199f7"/>
<rect x="93.39" y="440.00" width="1.25" height="9.80" fill="#4a9f0f"/>
<rect x="93.39" y="427.46" width="1.25" height="12.54" fill="#ff7f0e"/>
<rect x="93.39" y="426.28" width="1.25" height="1.18" fill="#6199f7"/>
<rect x="94.95" y="441.18" width="1.25" height="8.62" fill="#4a9f0f"/>
<rect x="94.95" y="422.75" width="1.25" height="18.42" fill="#ff7f0e"/>
<rect x="94.95" y="421.18" width="1.25" height="1.57" fill="#6199f7"/>
<rect x="96.51" y="434.90" width="1.25" height="14.90" fill="#4a9f0f"/>
<rect x="96.51" y="431.57" width="1.25" height="3.33" fill="#ff7f0e"/>
<rect x="96.51" y="430.59" width="1.25" height="0.98" fill="#6199f7"/>
<rect x="98.07" y="431.57" width="1.25" height="18.23" fill="#4a9f0f"/>
<rect x="98.07" y="427.46" width="1.25" height="4.12" fill="#ff7f0e"/>
<rect x="99.63" y="425.30" width="1.25" height="24.50" fill="#4a9f0f"/>
<rect x="99.63" y="413.74" width="1.25" height="11.56" fill="#ff7f0e"/>
<rect x="99.63" y="410.99" width="1.25" height="2.74" fill="#6199f7"/>
<rect x="101.19" y="430.59" width="1.25" height="19.21" fill="#4a9f0f"/>
<rect x="101.19" y="414.72" width="1.25" height="15.88" fill="#ff7f0e"/>
<rect x="101.19" y="413.34" width="1.25" height="1.37" fill="#6199f7"/>
<rect x="102.74" y="433.73" width="1.25" height="16.07" fill="#4a9f0f"/>
<rect x="102.74" y="415.89" width="1.25" height="17.84" fill="#ff7f0e"/>
<rect x="104.30" y="425.30" width="1.25" height="24.50" fill="#4a9f0f"/>
<rect x="104.30" y="413.54" width="1.25" height="11.76" fill="#ff7f0e"/>
<rect x="104.30" y="412.56" width="1.25" height="0.98" fill="#6199f7"/>
<rect x="105.86" y="427.65" width="1.25" height="22.15" fill="#4a9f0f"/>
<rect x="105.86" y="415.50" width="1.25" height="12.15" fill="#ff7f0e"/>
<rect x="107.42" y="436.08" width="1.25" height="13.72" fill="#4a9f0f"/>
<rect x="107.42" y="429.42" width="1.25" height="6.66" fill="#ff7f0e"/>
<rect x="108.98" y="430.79" width="1.25" height="19.01" fill="#4a9f0f"/>
<rect x="108.98" y="422.75" width="1.25" height="8.04" fill="#ff7f0e"/>
<rect x="108.98" y="420.99" width="1.25" height="1.76" fill="#6199f7"/>
<rect x="110.53" y="436.28" width="1.25" height="13.52" fill="#4a9f0f"/>
<rect x="110.53" y="430.59" width="1.25" height="5.68" fill="#ff7f0e"/>
<rect x="112.09" y="436.28" width="1.25" height="13.52" fill="#4a9f0f"/>
<rect x="112.09" y="427.06" width="1.25" height="9.21" fill="#ff7f0e"/>
<rect x="112.09" y="425.10" width="1.25" height="1.96" fill="#6199f7"/>
<rect x="113.65" y="431.57" width="1.25" height="18.23" fill="#4a9f0f"/>
<rect x="113.65" y="422.75" width="1.25" height="8.82" fill="#ff7f0e"/>
<rect x="115.21" y="438.43" width="1.25" height="11.37" fill="#4a9f0f"/>
<rect x="115.21" y="432.94" width="1.25" height="5.49" fill="#ff7f0e"/>
<rect x="116.77" y="436.67" width="1.25" height="13.13" fill="#4a9f0f"/>
<rect x="116.77" y="430.40" width="1.25" height="6.27" fill="#ff7f0e"/>
<rect x="116.77" y="428.44" width="1.25" height="1.96" fill="#6199f7"/>
<rect x="118.32" y="438.43" width="1.25" height="11.37" fill="#4a9f0f"/>
<rect x="118.32" y="432.16" width="1.25" height="6.27" fill="#ff7f0e"/>
<rect x="119.88" y="436.67" width="1.25" height="13.13" fill="#4a9f0f"/>
<rect x="119.88" y="430.40" width="1.25" height="6.27" fill="#ff7f0e"/>
<rect x="119.88" y="428.44" width="1.25" height="1.96" fill="#6199f7"/>
<rect x="121.44" y="444.12" width="1.25" height="5.68" fill="#4a9f0f"/>
<rect x="121.44" y="430.40" width="1.25" height="13.72" fill="#ff7f0e"/>
<rect x="121.44" y="426.67" width="1.25" height="3.72" fill="#6199f7"/>
<rect x="123.00" y="438.43" width="1.25" height="11.37" fill="#4a9f0f"/>
<rect x="123.00" y="434.71" width="1.25" height="3.72" fill="#ff7f0e"/>
<rect x="124.56" y="448.62" width="1.25" height="1.18" fill="#4a9f0f"/>
<rect x="124.56" y="446.08" width="1.25" height="2.55" fill="#ff7f0e"/>
<rect x="124.56" y="444.12" width="1.25" height="1.96" fill="#6199f7"/>
<rect x="126.11" y="442.35" width="1.25" height="7.45" fill="#4a9f0f"/>
<rect x="126.11" y="426.67" width="1.25" height="15.68" fill="#ff7f0e"/>
<rect x="127.67" y="440.39" width="1.25" height="9.41" fill="#ff7f0e"/>
<rect x="129.23" y="447.84" width="1.25" height="1.96" fill="#4a9f0f"/>
<rect x="129.23" y="442.35" width="1.25" height="5.49" fill="#ff7f0e"/>
<rect x="129.23" y="440.39" width="1.25" height="1.96" fill="#6199f7"/>
<rect x="130.79" y="446.08" width="1.25" height="3.72" fill="#ff7f0e"/>
<rect x="132.34" y="446.08" width="1.25" height="3.72" fill="#4a9f0f"/>
<rect x="132.34" y="436.28" width="1.25" height="9.80" fill="#ff7f0e"/>
<rect x="133.90" y="448.62" width="1.25" height="1.18" fill="#ff7f0e"/>
<rect x="135.46" y="444.12" width="1.25" height="5.68" fill="#ff7f0e"/>
<rect x="137.02" y="448.62" width="1.25" height="1.18" fill="#4a9f0f"/>
<rect x="138.58" y="446.08" width="1.25" height="3.72" fill="#4a9f0f"/>
<rect x="138.58" y="444.12" width="1.25" height="1.96" fill="#ff7f0e"/>
<rect x="140.13" y="447.84" width="1.25" height="1.96" fill="#4a9f0f"/>
<rect x="140.13" y="440.39" width="1.25" height="7.45" fill="#ff7f0e"/>
<rect x="141.69" y="447.84" width="1.25" height="1.96" fill="#4a9f0f"/>
<rect x="141.69" y="440.39" width="1.25" height="7.45" fill="#ff7f0e"/>
<rect x="143.25" y="447.84" width="1.25" height="1.96" fill="#4a9f0f"/>
<rect x="143.25" y="444.12" width="1.25" height="3.72" fill="#ff7f0e"/>
<rect x="144.81" y="446.08" width="1.25" height="3.72" fill="#4a9f0f"/>
<rect x="144.81" y="442.35" width="1.25" height="3.72" fill="#ff7f0e"/>
<rect x="146.37" y="447.84" width="1.25" height="1.96" fill="#ff7f0e"/>
<rect x="146.37" y="446.08" width="1.25" height="1.76" fill="#6199f7"/>
<rect x="147.93" y="442.35" width="1.25" height="7.45" fill="#4a9f0f"/>
<rect x="147.93" y="438.43" width="1.25" height="3.92" fill="#ff7f0e"/>
<rect x="149.48" y="447.84" width="1.25" height="1.96" fill="#4a9f0f"/>
<rect x="149.48" y="442.35" width="1.25" height="5.49" fill="#ff7f0e"/>
<rect x="149.48" y="440.39" width="1.25" height="1.96" fill="#6199f7"/>
<rect x="151.04" y="446.08" width="1.25" height="3.72" fill="#ff7f0e"/>
<rect x="152.60" y="446.08" width="1.25" height="3.72" fill="#4a9f0f"/>
<rect x="154.16" y="446.08" width="1.25" height="3.72" fill="#4a9f0f"/>
<rect x="155.72" y="446.08" width="1.25" height="3.72" fill="#4a9f0f"/>
<rect x="155.72" y="442.35" width="1.25" height="3.72" fill="#ff7f0e"/>
<rect x="157.27" y="440.39" width="1.25" height="9.41" fill="#4a9f0f"/>
<rect x="157.27" y="434.51" width="1.25" height="5.88" fill="#ff7f0e"/>
<rect x="157.27" y="432.55" width="1.25" height="1.96" fill="#6199f7"/>
<rect x="158.83" y="446.08" width="1.25" height="3.72" fill="#4a9f0f"/>
<rect x="158.83" y="444.12" width="1.25" height="1.96" fill="#6199f7"/>
<rect x="160.39" y="447.84" width="1.25" height="1.96" fill="#4a9f0f"/>
<rect x="160.39" y="446.08" width="1.25" height="1.76" fill="#ff7f0e"/>
<rect x="160.39" y="444.12" width="1.25" height="1.96" fill="#6199f7"/>
<rect x="161.95" y="444.12" width="1.25" height="5.68" fill="#4a9f0f"/>
<rect x="163.50" y="442.35" width="1.25" height="7.45" fill="#4a9f0f"/>
<rect x="163.50" y="440.39" width="1.25" height="1.96" fill="#ff7f0e"/>
<rect x="166.62" y="447.84" width="1.25" height="1.96" fill="#4a9f0f"/>
<rect x="166.62" y="446.08" width="1.25" height="1.76" fill="#ff7f0e"/>
<rect x="168.18" y="447.84" width="1.25" height="1.96" fill="#4a9f0f"/>
<rect x="168.18" y="446.08" width="1.25" height="1.76" fill="#6199f7"/>
<rect x="169.74" y="444.12" width="1.25" height="5.68" fill="#4a9f0f"/>
<rect x="169.74" y="442.35" width="1.25" height="1.76" fill="#ff7f0e"/>
<rect x="171.29" y="444.12" width="1.25" height="5.68" fill="#4a9f0f"/>
<rect x="172.85" y="444.12" width="1.25" height="5.68" fill="#4a9f0f"/>
<rect x="172.85" y="442.35" width="1.25" height="1.76" fill="#ff7f0e"/>
<rect x="172.85" y="440.39" width="1.25" height="1.96" fill="#6199f7"/>
<rect x="174.41" y="440.39" width="1.25" height="9.41" fill="#4a9f0f"/>
<rect x="174.41" y="436.28" width="1.25" height="4.12" fill="#6199f7"/>
<rect x="175.97" y="444.12" width="1.25" height="5.68" fill="#4a9f0f"/>
<rect x="175.97" y="442.35" width="1.25" height="1.76" fill="#ff7f0e"/>
<rect x="175.97" y="438.43" width="1.25" height="3.92" fill="#6199f7"/>
<rect x="177.53" y="447.84" width="1.25" height="1.96" fill="#6199f7"/>
<rect x="179.08" y="442.35" width="1.25" height="7.45" fill="#6199f7"/>
<rect x="180.64" y="447.84" width="1.25" height="1.96" fill="#4a9f0f"/>
<rect x="180.64" y="446.08" width="1.25" height="1.76" fill="#6199f7"/>
<rect x="182.20" y="447.84" width="1.25" height="1.96" fill="#4a9f0f"/>
<rect x="183.76" y="444.12" width="1.25" height="5.68" fill="#6199f7"/>
<rect x="185.32" y="446.08" width="1.25" height="3.72" fill="#6199f7"/>
<rect x="205.89" y="443.92" width="1.25" height="5.88" fill="#6a6af8"/>
<rect x="207.45" y="442.74" width="1.25" height="7.06" fill="#6a6af8"/>
<rect x="209.01" y="430.20" width="1.25" height="19.60" fill="#6a6af8"/>
<rect x="210.56" y="410.80" width="1.25" height="39.00" fill="#6a6af8"/>
<rect x="212.12" y="410.80" width="1.25" height="39.00" fill="#6a6af8"/>
<rect x="213.68" y="397.08" width="1.25" height="52.72" fill="#6a6af8"/>
<rect x="215.24" y="407.66" width="1.25" height="42.14" fill="#6a6af8"/>
<rect x="216.80" y="405.11" width="1.25" height="44.69" fill="#6a6af8"/>
<rect x="218.36" y="423.93" width="1.25" height="25.87" fill="#6a6af8"/>
<rect x="219.91" y="422.75" width="1.25" height="27.05" fill="#6a6af8"/>
<rect x="221.47" y="426.48" width="1.25" height="23.32" fill="#6a6af8"/>
<rect x="223.03" y="421.38" width="1.25" height="28.42" fill="#6a6af8"/>
<rect x="223.03" y="418.83" width="1.25" height="2.55" fill="#808000"/>
<rect x="224.59" y="426.48" width="1.25" height="23.32" fill="#6a6af8"/>
<rect x="224.59" y="424.71" width="1.25" height="1.76" fill="#808000"/>
<rect x="226.15" y="432.75" width="1.25" height="17.05" fill="#6a6af8"/>
<rect x="227.70" y="424.71" width="1.25" height="25.09" fill="#6a6af8"/>
<rect x="229.26" y="424.71" width="1.25" height="25.09" fill="#6a6af8"/>
<rect x="230.82" y="433.92" width="1.25" height="15.88" fill="#6a6af8"/>
<rect x="232.38" y="436.47" width="1.25" height="13.33" fill="#6a6af8"/>
<rect x="233.94" y="430.20" width="1.25" height="19.60" fill="#6a6af8"/>
<rect x="235.49" y="441.57" width="1.25" height="8.23" fill="#6a6af8"/>
<rect x="235.49" y="440.20" width="1.25" height="1.37" fill="#808000"/>
<rect x="237.05" y="440.20" width="1.25" height="9.60" fill="#6a6af8"/>
<rect x="238.61" y="445.29" width="1.25" height="4.51" fill="#6a6af8"/>
<rect x="238.61" y="442.74" width="1.25" height="2.55" fill="#808000"/>
<rect x="240.17" y="446.47" width="1.25" height="3.33" fill="#6a6af8"/>
<rect x="241.73" y="448.23" width="1.25" height="1.57" fill="#6a6af8"/>
<rect x="243.28" y="448.23" width="1.25" height="1.57" fill="#6a6af8"/>
<rect x="244.84" y="447.84" width="1.25" height="1.96" fill="#6a6af8"/>
<rect x="246.40" y="444.12" width="1.25" height="5.68" fill="#6a6af8"/>
<rect x="247.96" y="446.47" width="1.25" height="3.33" fill="#6a6af8"/>
<rect x="249.52" y="446.08" width="1.25" height="3.72" fill="#6a6af8"/>
<rect x="251.07" y="445.29" width="1.25" height="4.51" fill="#6a6af8"/>
<rect x="251.07" y="442.35" width="1.25" height="2.94" fill="#808000"/>
<rect x="252.63" y="446.08" width="1.25" height="3.72" fill="#6a6af8"/>
<rect x="254.19" y="446.08" width="1.25" height="3.72" fill="#6a6af8"/>
<rect x="255.75" y="448.23" width="1.25" height="1.57" fill="#6a6af8"/>
<rect x="257.31" y="448.23" width="1.25" height="1.57" fill="#6a6af8"/>
<rect x="260.42" y="444.12" width="1.25" height="5.68" fill="#6a6af8"/>
<rect x="261.98" y="447.84" width="1.25" height="1.96" fill="#6a6af8"/>
<rect x="263.54" y="446.08" width="1.25" height="3.72" fill="#6a6af8"/>
<rect x="265.10" y="442.35" width="1.25" height="7.45" fill="#6a6af8"/>
<rect x="266.65" y="446.08" width="1.25" height="3.72" fill="#6a6af8"/>
<rect x="268.21" y="448.23" width="1.25" height="1.57" fill="#6a6af8"/>
<rect x="269.77" y="438.24" width="1.25" height="11.56" fill="#6a6af8"/>
<rect x="269.77" y="436.47" width="1.25" height="1.76" fill="#808000"/>
<rect x="271.33" y="428.44" width="1.25" height="21.36" fill="#6a6af8"/>
<rect x="272.88" y="426.48" width="1.25" height="23.32" fill="#6a6af8"/>
<rect x="274.44" y="432.75" width="1.25" height="17.05" fill="#6a6af8"/>
<rect x="276.00" y="432.75" width="1.25" height="17.05" fill="#6a6af8"/>
<rect x="277.56" y="438.24" width="1.25" height="11.56" fill="#6a6af8"/>
<rect x="279.12" y="438.24" width="1.25" height="11.56" fill="#6a6af8"/>
<rect x="280.68" y="444.12" width="1.25" height="5.68" fill="#6a6af8"/>
<rect x="282.23" y="444.12" width="1.25" height="5.68" fill="#6a6af8"/>
<rect x="283.79" y="444.12" width="1.25" height="5.68" fill="#6a6af8"/>
<rect x="285.35" y="444.12" width="1.25" height="5.68" fill="#6a6af8"/>
<rect x="286.91" y="447.84" width="1.25" height="1.96" fill="#6a6af8"/>
<rect x="288.47" y="444.12" width="1.25" height="5.68" fill="#6a6af8"/>
<rect x="290.02" y="448.23" width="1.25" height="1.57" fill="#6a6af8"/>
<rect x="297.81" y="448.23" width="1.25" height="1.57" fill="#6a6af8"/>
<rect x="300.93" y="447.84" width="1.25" height="1.96" fill="#6a6af8"/>
<rect x="302.49" y="446.08" width="1.25" height="3.72" fill="#6a6af8"/>
<rect x="305.60" y="448.23" width="1.25" height="1.57" fill="#6a6af8"/>
<rect x="307.16" y="448.23" width="1.25" height="1.57" fill="#808000"/>
<rect x="308.72" y="448.23" width="1.25" height="1.57" fill="#6a6af8"/>
<rect x="310.28" y="448.23" width="1.25" height="1.57" fill="#808000"/>
<rect x="313.39" y="447.84" width="1.25" height="1.96" fill="#6a6af8"/>
<rect x="314.95" y="448.23" width="1.25" height="1.57" fill="#6a6af8"/>
<rect x="314.95" y="446.47" width="1.25" height="1.76" fill="#808000"/>
<rect x="316.51" y="447.84" width="1.25" height="1.96" fill="#6a6af8"/>
<rect x="316.51" y="445.29" width="1.25" height="2.55" fill="#808000"/>
<rect x="318.07" y="446.47" width="1.25" height="3.33" fill="#6a6af8"/>
<rect x="318.07" y="444.12" width="1.25" height="2.35" fill="#808000"/>
<rect x="319.62" y="444.51" width="1.25" height="5.29" fill="#6a6af8"/>
<rect x="319.62" y="440.20" width="1.25" height="4.31" fill="#808000"/>
<rect x="321.18" y="447.84" width="1.25" height="1.96" fill="#6a6af8"/>
<rect x="321.18" y="446.08" width="1.25" height="1.76" fill="#cc66ff"/>
<rect x="322.74" y="444.12" width="1.25" height="5.68" fill="#6a6af8"/>
<rect x="324.30" y="446.08" width="1.25" height="3.72" fill="#6a6af8"/>
<rect x="327.42" y="448.23" width="1.25" height="1.57" fill="#6a6af8"/>
<rect x="328.97" y="448.23" width="1.25" height="1.57" fill="#6a6af8"/>
<rect x="328.97" y="444.12" width="1.25" height="4.12" fill="#cc66ff"/>
<rect x="332.09" y="446.08" width="1.25" height="3.72" fill="#6a6af8"/>
<rect x="333.65" y="447.84" width="1.25" height="1.96" fill="#6a6af8"/>
<rect x="335.21" y="448.23" width="1.25" height="1.57" fill="#6a6af8"/>
<rect x="336.76" y="446.08" width="1.25" height="3.72" fill="#6a6af8"/>
<rect x="338.32" y="447.84" width="1.25" height="1.96" fill="#cc66ff"/>
<rect x="339.88" y="444.12" width="1.25" height="5.68" fill="#6a6af8"/>
<rect x="341.44" y="444.12" width="1.25" height="5.68" fill="#6a6af8"/>
<rect x="341.44" y="436.47" width="1.25" height="7.64" fill="#808000"/>
<rect x="343.00" y="447.84" width="1.25" height="1.96" fill="#6a6af8"/>
<rect x="343.00" y="446.08" width="1.25" height="1.76" fill="#808000"/>
<rect x="344.55" y="442.74" width="1.25" height="7.06" fill="#6a6af8"/>
<rect x="344.55" y="440.20" width="1.25" height="2.55" fill="#808000"/>
<rect x="346.11" y="445.88" width="1.25" height="3.92" fill="#6a6af8"/>
<rect x="346.11" y="442.35" width="1.25" height="3.53" fill="#808000"/>
<rect x="347.67" y="446.08" width="1.25" height="3.72" fill="#6a6af8"/>
<rect x="347.67" y="444.12" width="1.25" height="1.96" fill="#808000"/>
<rect x="349.23" y="446.08" width="1.25" height="3.72" fill="#6a6af8"/>
<rect x="353.90" y="448.23" width="1.25" height="1.57" fill="#6a6af8"/>
<rect x="353.90" y="446.08" width="1.25" height="2.16" fill="#cc66ff"/>
<rect x="355.46" y="446.47" width="1.25" height="3.33" fill="#6a6af8"/>
<rect x="357.02" y="446.08" width="1.25" height="3.72" fill="#6a6af8"/>
<rect x="30.9" y="292.9" width="157.6" height="157.5" fill="none" stroke="#8c8c8c" stroke-width="0.6"/>
<rect x="202.8" y="292.9" width="157.0" height="157.5" fill="none" stroke="#8c8c8c" stroke-width="0.6"/>
<line x1="31.70" y1="450.40000000000003" x2="31.70" y2="452.2" stroke="#555" stroke-width="0.5"/>
<text class="s" x="31.70" y="461.60" font-size="9" text-anchor="middle">0</text>
<line x1="62.86" y1="450.40000000000003" x2="62.86" y2="452.2" stroke="#555" stroke-width="0.5"/>
<text class="s" x="62.86" y="461.60" font-size="9" text-anchor="middle">20</text>
<line x1="94.02" y1="450.40000000000003" x2="94.02" y2="452.2" stroke="#555" stroke-width="0.5"/>
<text class="s" x="94.02" y="461.60" font-size="9" text-anchor="middle">40</text>
<line x1="125.18" y1="450.40000000000003" x2="125.18" y2="452.2" stroke="#555" stroke-width="0.5"/>
<text class="s" x="125.18" y="461.60" font-size="9" text-anchor="middle">60</text>
<line x1="156.34" y1="450.40000000000003" x2="156.34" y2="452.2" stroke="#555" stroke-width="0.5"/>
<text class="s" x="156.34" y="461.60" font-size="9" text-anchor="middle">80</text>
<line x1="187.50" y1="450.40000000000003" x2="187.50" y2="452.2" stroke="#555" stroke-width="0.5"/>
<text class="s" x="187.50" y="461.60" font-size="9" text-anchor="middle">100</text>
<line x1="203.40" y1="450.40000000000003" x2="203.40" y2="452.2" stroke="#555" stroke-width="0.5"/>
<text class="s" x="203.40" y="461.60" font-size="9" text-anchor="middle">0</text>
<line x1="234.56" y1="450.40000000000003" x2="234.56" y2="452.2" stroke="#555" stroke-width="0.5"/>
<text class="s" x="234.56" y="461.60" font-size="9" text-anchor="middle">20</text>
<line x1="265.72" y1="450.40000000000003" x2="265.72" y2="452.2" stroke="#555" stroke-width="0.5"/>
<text class="s" x="265.72" y="461.60" font-size="9" text-anchor="middle">40</text>
<line x1="296.88" y1="450.40000000000003" x2="296.88" y2="452.2" stroke="#555" stroke-width="0.5"/>
<text class="s" x="296.88" y="461.60" font-size="9" text-anchor="middle">60</text>
<line x1="328.04" y1="450.40000000000003" x2="328.04" y2="452.2" stroke="#555" stroke-width="0.5"/>
<text class="s" x="328.04" y="461.60" font-size="9" text-anchor="middle">80</text>
<line x1="359.20" y1="450.40000000000003" x2="359.20" y2="452.2" stroke="#555" stroke-width="0.5"/>
<text class="s" x="359.20" y="461.60" font-size="9" text-anchor="middle">100</text>
<line x1="29.099999999999998" y1="449.80" x2="30.9" y2="449.80" stroke="#555" stroke-width="0.5"/>
<text class="s" x="27.90" y="452.80" font-size="9" text-anchor="end">0</text>
<line x1="29.099999999999998" y1="410.60" x2="30.9" y2="410.60" stroke="#555" stroke-width="0.5"/>
<text class="s" x="27.90" y="413.60" font-size="9" text-anchor="end">20</text>
<line x1="29.099999999999998" y1="371.40" x2="30.9" y2="371.40" stroke="#555" stroke-width="0.5"/>
<text class="s" x="27.90" y="374.40" font-size="9" text-anchor="end">40</text>
<line x1="29.099999999999998" y1="332.20" x2="30.9" y2="332.20" stroke="#555" stroke-width="0.5"/>
<text class="s" x="27.90" y="335.20" font-size="9" text-anchor="end">60</text>
<line x1="29.099999999999998" y1="293.00" x2="30.9" y2="293.00" stroke="#555" stroke-width="0.5"/>
<text class="s" x="27.90" y="296.00" font-size="9" text-anchor="end">80</text>
<text class="s" x="6.60" y="375.50" font-size="11.4" font-weight="bold" text-anchor="middle" transform="rotate(-90.00 6.60 375.50)" dominant-baseline="central">Pair count</text>
<text class="s" x="196.30" y="479.80" font-size="11.3" font-weight="bold" text-anchor="middle">cgMLST allele pairwise distance</text>
</g>
<g id="panel-d">
<text class="s" x="378.50" y="261.20" font-size="18" font-weight="bold">d)</text>
<path d="M551.58 247.68A99.3 99.3 0 0 1 566.90 251.33L565.82 254.66A95.8 95.8 0 0 0 551.04 251.14Z" fill="#7090ea"/>
<path d="M568.38 251.83A99.3 99.3 0 0 1 581.92 257.60L580.31 260.71A95.8 95.8 0 0 0 567.25 255.14Z" fill="#7090ea"/>
<path d="M583.30 258.33A99.3 99.3 0 0 1 601.12 270.57L598.83 273.23A95.8 95.8 0 0 0 581.64 261.41Z" fill="#7090ea"/>
<path d="M602.29 271.60A99.3 99.3 0 0 1 616.69 287.50L613.85 289.56A95.8 95.8 0 0 0 599.97 274.22Z" fill="#7090ea"/>
<path d="M617.59 288.77A99.3 99.3 0 0 1 624.66 300.49L621.54 302.08A95.8 95.8 0 0 0 614.73 290.78Z" fill="#7090ea"/>
<path d="M625.36 301.88A99.3 99.3 0 0 1 630.93 315.69L627.59 316.75A95.8 95.8 0 0 0 622.22 303.43Z" fill="#7090ea"/>
<path d="M631.39 317.18A99.3 99.3 0 0 1 634.47 330.87L631.01 331.39A95.8 95.8 0 0 0 628.04 318.19Z" fill="#7090ea"/>
<path d="M634.69 332.41A99.3 99.3 0 0 1 635.59 344.33L632.09 344.38A95.8 95.8 0 0 0 631.22 332.88Z" fill="#7090ea"/>
<path d="M635.60 345.89A99.3 99.3 0 0 1 634.55 360.22L631.08 359.71A95.8 95.8 0 0 0 632.10 345.88Z" fill="#6f9299"/>
<path d="M634.31 361.76A99.3 99.3 0 0 1 628.34 383.08L625.09 381.76A95.8 95.8 0 0 0 630.85 361.20Z" fill="#6f9299"/>
<path d="M627.74 384.52A99.3 99.3 0 0 1 626.33 387.69L623.16 386.21A95.8 95.8 0 0 0 624.52 383.16Z" fill="#6f9299"/>
<path d="M625.66 389.10A99.3 99.3 0 0 1 617.29 403.25L614.44 401.23A95.8 95.8 0 0 0 622.51 387.57Z" fill="#6f9299"/>
<path d="M616.38 404.52A99.3 99.3 0 0 1 614.50 407.00L611.74 404.85A95.8 95.8 0 0 0 613.56 402.45Z" fill="#6f9299"/>
<path d="M613.53 408.22A99.3 99.3 0 0 1 604.21 418.25L601.82 415.69A95.8 95.8 0 0 0 610.80 406.02Z" fill="#6f9299"/>
<path d="M603.07 419.30A99.3 99.3 0 0 1 601.25 420.91L598.96 418.27A95.8 95.8 0 0 0 600.71 416.71Z" fill="#6f9299"/>
<path d="M600.06 421.92A99.3 99.3 0 0 1 597.50 424.00L595.35 421.24A95.8 95.8 0 0 0 597.81 419.24Z" fill="#6f9299"/>
<path d="M596.27 424.95A99.3 99.3 0 0 1 580.99 434.47L579.42 431.35A95.8 95.8 0 0 0 594.15 422.16Z" fill="#6f9299"/>
<path d="M579.60 435.16A99.3 99.3 0 0 1 568.22 439.83L567.09 436.52A95.8 95.8 0 0 0 578.07 432.01Z" fill="#6f9299"/>
<path d="M566.74 440.32A99.3 99.3 0 0 1 550.55 444.07L550.05 440.61A95.8 95.8 0 0 0 565.67 436.99Z" fill="#6f9299"/>
<path d="M549.00 444.28A99.3 99.3 0 0 1 535.35 445.10L535.38 441.60A95.8 95.8 0 0 0 548.56 440.81Z" fill="#6f9299"/>
<path d="M533.79 445.07A99.3 99.3 0 0 1 529.81 444.89L530.03 441.39A95.8 95.8 0 0 0 533.88 441.57Z" fill="#6f9299"/>
<path d="M528.25 444.77A99.3 99.3 0 0 1 526.35 444.60L526.70 441.12A95.8 95.8 0 0 0 528.53 441.28Z" fill="#6f9299"/>
<path d="M524.80 444.43A99.3 99.3 0 0 1 523.08 444.22L523.55 440.75A95.8 95.8 0 0 0 525.21 440.96Z" fill="#6f9299"/>
<path d="M521.54 444.00A99.3 99.3 0 0 1 508.35 441.08L509.33 437.73A95.8 95.8 0 0 0 522.06 440.54Z" fill="#cf5a9a"/>
<path d="M506.85 440.63A99.3 99.3 0 0 1 493.47 435.39L494.98 432.23A95.8 95.8 0 0 0 507.89 437.29Z" fill="#cf5a9a"/>
<path d="M492.07 434.71A99.3 99.3 0 0 1 477.86 426.08L479.92 423.25A95.8 95.8 0 0 0 493.63 431.57Z" fill="#cf5a9a"/>
<path d="M476.61 425.16A99.3 99.3 0 0 1 463.74 413.59L466.29 411.20A95.8 95.8 0 0 0 478.71 422.36Z" fill="#cf5a9a"/>
<path d="M462.68 412.44A99.3 99.3 0 0 1 454.32 401.83L457.21 399.85A95.8 95.8 0 0 0 465.27 410.09Z" fill="#cf5a9a"/>
<path d="M453.45 400.54A99.3 99.3 0 0 1 446.94 389.10L450.09 387.57A95.8 95.8 0 0 0 456.37 398.61Z" fill="#cf5a9a"/>
<path d="M446.27 387.69A99.3 99.3 0 0 1 441.73 376.07L445.06 375.01A95.8 95.8 0 0 0 449.44 386.21Z" fill="#cf5a9a"/>
<path d="M441.26 374.58A99.3 99.3 0 0 1 437.86 358.85L441.33 358.39A95.8 95.8 0 0 0 444.61 373.57Z" fill="#cf5a9a"/>
<path d="M437.67 357.30A99.3 99.3 0 0 1 437.00 346.06L440.50 346.05A95.8 95.8 0 0 0 441.14 356.89Z" fill="#cf5a9a"/>
<path d="M437.01 344.50A99.3 99.3 0 0 1 437.84 332.92L441.31 333.38A95.8 95.8 0 0 0 440.51 344.55Z" fill="#cf5a9a"/>
<path d="M438.05 331.38A99.3 99.3 0 0 1 441.62 315.86L444.96 316.91A95.8 95.8 0 0 0 441.52 331.89Z" fill="#cf5a9a"/>
<path d="M442.10 314.37A99.3 99.3 0 0 1 447.71 300.95L450.83 302.53A95.8 95.8 0 0 0 445.42 315.48Z" fill="#cf5a9a"/>
<path d="M448.42 299.56A99.3 99.3 0 0 1 456.53 286.66L459.34 288.75A95.8 95.8 0 0 0 451.52 301.19Z" fill="#cf5a9a"/>
<path d="M457.47 285.42A99.3 99.3 0 0 1 465.17 276.51L467.68 278.95A95.8 95.8 0 0 0 460.25 287.55Z" fill="#cf5a9a"/>
<path d="M466.27 275.40A99.3 99.3 0 0 1 477.58 265.72L479.65 268.54A95.8 95.8 0 0 0 468.74 277.88Z" fill="#cf5a9a"/>
<path d="M478.85 264.81A99.3 99.3 0 0 1 488.84 258.57L490.51 261.65A95.8 95.8 0 0 0 480.87 267.66Z" fill="#cf5a9a"/>
<path d="M490.22 257.84A99.3 99.3 0 0 1 504.22 251.83L505.35 255.14A95.8 95.8 0 0 0 491.84 260.94Z" fill="#cf5a9a"/>
<path d="M505.70 251.33A99.3 99.3 0 0 1 511.52 249.64L512.39 253.03A95.8 95.8 0 0 0 506.78 254.66Z" fill="#cf5a9a"/>
<path d="M513.03 249.26A99.3 99.3 0 0 1 518.80 248.05L519.42 251.50A95.8 95.8 0 0 0 513.85 252.67Z" fill="#cf5a9a"/>
<path d="M520.34 247.79A99.3 99.3 0 0 1 524.46 247.21L524.87 250.68A95.8 95.8 0 0 0 520.90 251.25Z" fill="#cf5a9a"/>
<path d="M526.01 247.03A99.3 99.3 0 0 1 531.88 246.60L532.04 250.09A95.8 95.8 0 0 0 526.37 250.52Z" fill="#cf5a9a"/>
<path d="M533.44 246.54A99.3 99.3 0 0 1 534.48 246.52L534.54 250.02A95.8 95.8 0 0 0 533.54 250.04Z" fill="#cf5a9a"/>
<path d="M535.69 246.50A99.3 99.3 0 0 1 536.91 246.50L536.89 250.00A95.8 95.8 0 0 0 535.71 250.00Z" fill="#cf5a9a"/>
<path d="M538.47 246.52A99.3 99.3 0 0 1 539.68 246.56L539.56 250.06A95.8 95.8 0 0 0 538.39 250.02Z" fill="#cf5a9a"/>
<path d="M541.24 246.62A99.3 99.3 0 0 1 544.18 246.81L543.90 250.30A95.8 95.8 0 0 0 541.06 250.12Z" fill="#cf5a9a"/>
<path d="M545.73 246.95A99.3 99.3 0 0 1 550.03 247.45L549.55 250.92A95.8 95.8 0 0 0 545.40 250.43Z" fill="#cf5a9a"/>
<g id="e-purple">
<path d="M551.78 254.30Q535.51 345.61 507.62 434.06" fill="none" stroke="#ab8ff0" stroke-width="1.45" stroke-opacity="0.9"/>
<path d="M551.78 254.30Q534.68 345.26 493.88 428.34" fill="none" stroke="#ab8ff0" stroke-width="1.45" stroke-opacity="0.9"/>
<path d="M551.78 254.30Q533.82 344.72 479.55 419.23" fill="none" stroke="#ab8ff0" stroke-width="1.45" stroke-opacity="0.9"/>
<path d="M551.78 254.30Q533.05 343.99 466.69 407.17" fill="none" stroke="#ab8ff0" stroke-width="1.45" stroke-opacity="0.9"/>
<path d="M567.43 258.38Q536.45 345.85 507.62 434.06" fill="none" stroke="#ab8ff0" stroke-width="1.45" stroke-opacity="0.9"/>
<path d="M567.43 258.38Q535.62 345.51 493.88 428.34" fill="none" stroke="#ab8ff0" stroke-width="1.45" stroke-opacity="0.9"/>
<path d="M567.43 258.38Q533.99 344.24 466.69 407.17" fill="none" stroke="#ab8ff0" stroke-width="1.45" stroke-opacity="0.9"/>
<path d="M567.43 258.38Q533.48 343.56 458.21 395.93" fill="none" stroke="#ab8ff0" stroke-width="1.45" stroke-opacity="0.9"/>
<path d="M581.29 264.64Q537.28 346.23 507.62 434.06" fill="none" stroke="#ab8ff0" stroke-width="1.45" stroke-opacity="0.9"/>
<path d="M581.29 264.64Q536.45 345.88 493.88 428.34" fill="none" stroke="#ab8ff0" stroke-width="1.45" stroke-opacity="0.9"/>
<path d="M581.29 264.64Q535.59 345.34 479.55 419.23" fill="none" stroke="#ab8ff0" stroke-width="1.45" stroke-opacity="0.9"/>
<path d="M581.29 264.64Q533.65 342.47 447.14 371.53" fill="none" stroke="#ab8ff0" stroke-width="1.45" stroke-opacity="0.9"/>
<path d="M581.29 264.64Q533.46 341.50 443.99 355.34" fill="none" stroke="#ab8ff0" stroke-width="1.45" stroke-opacity="0.9"/>
<path d="M598.88 277.27Q538.33 346.98 507.62 434.06" fill="none" stroke="#ab8ff0" stroke-width="1.45" stroke-opacity="0.9"/>
<path d="M598.88 277.27Q536.65 346.09 479.55 419.23" fill="none" stroke="#ab8ff0" stroke-width="1.45" stroke-opacity="0.9"/>
<path d="M598.88 277.27Q535.88 345.37 466.69 407.17" fill="none" stroke="#ab8ff0" stroke-width="1.45" stroke-opacity="0.9"/>
<path d="M598.88 277.27Q534.52 342.26 443.99 355.34" fill="none" stroke="#ab8ff0" stroke-width="1.45" stroke-opacity="0.9"/>
<path d="M598.88 277.27Q534.49 341.54 443.53 343.37" fill="none" stroke="#ab8ff0" stroke-width="1.45" stroke-opacity="0.9"/>
<path d="M612.96 293.50Q538.35 347.61 493.88 428.34" fill="none" stroke="#ab8ff0" stroke-width="1.45" stroke-opacity="0.9"/>
<path d="M612.96 293.50Q537.49 347.07 479.55 419.23" fill="none" stroke="#ab8ff0" stroke-width="1.45" stroke-opacity="0.9"/>
<path d="M612.96 293.50Q535.55 344.21 447.14 371.53" fill="none" stroke="#ab8ff0" stroke-width="1.45" stroke-opacity="0.9"/>
<path d="M612.96 293.50Q535.33 342.52 443.53 343.37" fill="none" stroke="#ab8ff0" stroke-width="1.45" stroke-opacity="0.9"/>
<path d="M612.96 293.50Q537.63 332.66 471.72 279.16" fill="none" stroke="#ab8ff0" stroke-width="1.45" stroke-opacity="0.9"/>
<path d="M612.96 293.50Q539.52 328.52 483.60 269.41" fill="none" stroke="#ab8ff0" stroke-width="1.45" stroke-opacity="0.9"/>
<path d="M620.06 305.85Q537.92 347.81 479.55 419.23" fill="none" stroke="#ab8ff0" stroke-width="1.45" stroke-opacity="0.9"/>
<path d="M620.06 305.85Q537.15 347.09 466.69 407.17" fill="none" stroke="#ab8ff0" stroke-width="1.45" stroke-opacity="0.9"/>
<path d="M620.06 305.85Q536.64 346.41 458.21 395.93" fill="none" stroke="#ab8ff0" stroke-width="1.45" stroke-opacity="0.9"/>
<path d="M620.06 305.85Q535.98 344.95 447.14 371.53" fill="none" stroke="#ab8ff0" stroke-width="1.45" stroke-opacity="0.9"/>
<path d="M620.06 305.85Q535.79 343.98 443.99 355.34" fill="none" stroke="#ab8ff0" stroke-width="1.45" stroke-opacity="0.9"/>
<path d="M620.06 305.85Q536.43 340.75 454.75 301.52" fill="none" stroke="#ab8ff0" stroke-width="1.45" stroke-opacity="0.9"/>
<path d="M620.06 305.85Q539.79 332.74 483.60 269.41" fill="none" stroke="#ab8ff0" stroke-width="1.45" stroke-opacity="0.9"/>
<path d="M625.51 320.22Q537.48 347.95 466.69 407.17" fill="none" stroke="#ab8ff0" stroke-width="1.45" stroke-opacity="0.9"/>
<path d="M625.51 320.22Q536.97 347.27 458.21 395.93" fill="none" stroke="#ab8ff0" stroke-width="1.45" stroke-opacity="0.9"/>
<path d="M625.51 320.22Q536.30 345.81 447.14 371.53" fill="none" stroke="#ab8ff0" stroke-width="1.45" stroke-opacity="0.9"/>
<path d="M625.51 320.22Q536.11 344.84 443.99 355.34" fill="none" stroke="#ab8ff0" stroke-width="1.45" stroke-opacity="0.9"/>
<path d="M625.51 320.22Q536.09 344.12 443.53 343.37" fill="none" stroke="#ab8ff0" stroke-width="1.45" stroke-opacity="0.9"/>
<path d="M625.51 320.22Q537.28 340.82 463.37 288.41" fill="none" stroke="#ab8ff0" stroke-width="1.45" stroke-opacity="0.9"/>
<path d="M625.51 320.22Q539.53 336.78 483.60 269.41" fill="none" stroke="#ab8ff0" stroke-width="1.45" stroke-opacity="0.9"/>
<path d="M628.41 334.49Q537.14 348.13 458.21 395.93" fill="none" stroke="#ab8ff0" stroke-width="1.45" stroke-opacity="0.9"/>
<path d="M628.41 334.49Q536.48 346.67 447.14 371.53" fill="none" stroke="#ab8ff0" stroke-width="1.45" stroke-opacity="0.9"/>
<path d="M628.41 334.49Q536.29 345.69 443.99 355.34" fill="none" stroke="#ab8ff0" stroke-width="1.45" stroke-opacity="0.9"/>
<path d="M628.41 334.49Q536.26 344.98 443.53 343.37" fill="none" stroke="#ab8ff0" stroke-width="1.45" stroke-opacity="0.9"/>
<path d="M628.41 334.49Q536.57 343.29 448.66 315.28" fill="none" stroke="#ab8ff0" stroke-width="1.45" stroke-opacity="0.9"/>
<path d="M628.41 334.49Q537.95 341.12 471.72 279.16" fill="none" stroke="#ab8ff0" stroke-width="1.45" stroke-opacity="0.9"/>
<path d="M628.41 334.49Q538.90 340.01 483.60 269.41" fill="none" stroke="#ab8ff0" stroke-width="1.45" stroke-opacity="0.9"/>
</g>
<g id="e-teal">
<path d="M610.41 401.65Q540.24 343.61 527.89 253.38" fill="none" stroke="#36a3b6" stroke-width="1.5"/>
<path d="M610.41 401.65Q540.66 343.58 534.84 253.01" fill="none" stroke="#36a3b6" stroke-width="1.5"/>
<path d="M597.79 415.30Q540.03 344.40 536.95 253.00" fill="none" stroke="#36a3b6" stroke-width="1.5"/>
<path d="M594.95 417.71Q540.01 344.55 539.54 253.06" fill="none" stroke="#36a3b6" stroke-width="1.5"/>
<path d="M597.79 415.30Q534.18 355.67 451.66 383.84" fill="none" stroke="#36a3b6" stroke-width="1.5"/>
<path d="M610.41 401.65Q538.23 344.19 494.31 263.04" fill="none" stroke="#36a3b6" stroke-width="1.5"/>
<path d="M610.41 401.65Q535.85 346.49 454.75 301.52" fill="none" stroke="#36a3b6" stroke-width="1.5"/>
<path d="M597.79 415.30Q536.83 345.39 483.60 269.41" fill="none" stroke="#36a3b6" stroke-width="1.5"/>
<path d="M594.95 417.71Q535.94 346.12 471.72 279.16" fill="none" stroke="#36a3b6" stroke-width="1.5"/>
<path d="M619.28 387.35Q535.71 348.15 443.53 343.37" fill="none" stroke="#36a3b6" stroke-width="1.5"/>
</g>
<g id="e-crimson">
<path d="M629.09 347.10Q537.18 348.89 458.21 395.93" fill="none" stroke="#c4506e" stroke-width="1.4"/>
<path d="M629.09 347.10Q536.52 347.42 447.14 371.53" fill="none" stroke="#c4506e" stroke-width="1.4"/>
<path d="M629.09 347.10Q536.33 346.45 443.99 355.34" fill="none" stroke="#c4506e" stroke-width="1.4"/>
<path d="M629.09 347.10Q536.30 345.73 443.53 343.37" fill="none" stroke="#c4506e" stroke-width="1.4"/>
<path d="M629.09 347.10Q536.37 345.00 444.67 331.12" fill="none" stroke="#c4506e" stroke-width="1.4"/>
<path d="M629.09 347.10Q536.61 344.05 448.66 315.28" fill="none" stroke="#c4506e" stroke-width="1.4"/>
<path d="M627.69 361.91Q540.81 354.88 493.88 428.34" fill="none" stroke="#c4506e" stroke-width="1.4"/>
<path d="M627.69 361.91Q537.61 350.45 466.69 407.17" fill="none" stroke="#c4506e" stroke-width="1.4"/>
<path d="M627.69 361.91Q536.43 348.31 447.14 371.53" fill="none" stroke="#c4506e" stroke-width="1.4"/>
<path d="M627.69 361.91Q536.29 345.89 444.67 331.12" fill="none" stroke="#c4506e" stroke-width="1.4"/>
<path d="M627.69 361.91Q536.53 344.94 448.66 315.28" fill="none" stroke="#c4506e" stroke-width="1.4"/>
<path d="M627.69 361.91Q536.89 344.11 454.75 301.52" fill="none" stroke="#c4506e" stroke-width="1.4"/>
<path d="M621.27 383.10Q544.70 364.54 507.62 434.06" fill="none" stroke="#c4506e" stroke-width="1.4"/>
<path d="M621.27 383.10Q535.90 347.16 444.67 331.12" fill="none" stroke="#c4506e" stroke-width="1.4"/>
<path d="M621.27 383.10Q537.52 344.04 471.72 279.16" fill="none" stroke="#c4506e" stroke-width="1.4"/>
<path d="M619.28 387.35Q539.11 358.13 479.55 419.23" fill="none" stroke="#c4506e" stroke-width="1.4"/>
<path d="M619.28 387.35Q535.71 348.15 443.53 343.37" fill="none" stroke="#c4506e" stroke-width="1.4"/>
<path d="M619.28 387.35Q536.90 344.85 463.37 288.41" fill="none" stroke="#c4506e" stroke-width="1.4"/>
<path d="M607.70 405.08Q535.05 349.93 443.99 355.34" fill="none" stroke="#c4506e" stroke-width="1.4"/>
<path d="M607.70 405.08Q535.69 346.70 454.75 301.52" fill="none" stroke="#c4506e" stroke-width="1.4"/>
<path d="M607.70 405.08Q538.06 344.39 494.31 263.04" fill="none" stroke="#c4506e" stroke-width="1.4"/>
<path d="M591.37 420.49Q535.23 346.84 463.37 288.41" fill="none" stroke="#c4506e" stroke-width="1.4"/>
<path d="M591.37 420.49Q536.44 345.70 483.60 269.41" fill="none" stroke="#c4506e" stroke-width="1.4"/>
<path d="M575.67 429.84Q534.79 346.84 471.72 279.16" fill="none" stroke="#c4506e" stroke-width="1.4"/>
<path d="M575.67 429.84Q536.14 345.88 494.31 263.04" fill="none" stroke="#c4506e" stroke-width="1.4"/>
<path d="M575.67 429.84Q537.43 345.41 515.74 255.31" fill="none" stroke="#c4506e" stroke-width="1.4"/>
<path d="M563.59 434.50Q534.78 346.54 483.60 269.41" fill="none" stroke="#c4506e" stroke-width="1.4"/>
<path d="M563.59 434.50Q536.29 345.80 508.86 257.15" fill="none" stroke="#c4506e" stroke-width="1.4"/>
<path d="M546.97 437.98Q535.71 345.90 515.74 255.31" fill="none" stroke="#c4506e" stroke-width="1.4"/>
<path d="M546.97 437.98Q537.29 345.77 542.13 253.18" fill="none" stroke="#c4506e" stroke-width="1.4"/>
<path d="M532.74 438.53Q534.44 346.04 508.86 257.15" fill="none" stroke="#c4506e" stroke-width="1.4"/>
<path d="M532.74 438.53Q535.26 345.86 522.58 254.02" fill="none" stroke="#c4506e" stroke-width="1.4"/>
<path d="M532.74 438.53Q536.69 345.83 546.32 253.54" fill="none" stroke="#c4506e" stroke-width="1.4"/>
<path d="M527.57 438.19Q534.95 345.84 522.58 254.02" fill="none" stroke="#c4506e" stroke-width="1.4"/>
<path d="M527.57 438.19Q536.13 345.79 542.13 253.18" fill="none" stroke="#c4506e" stroke-width="1.4"/>
<path d="M524.35 437.83Q533.94 346.00 508.86 257.15" fill="none" stroke="#c4506e" stroke-width="1.4"/>
<path d="M524.35 437.83Q536.18 345.79 546.32 253.54" fill="none" stroke="#c4506e" stroke-width="1.4"/>
<path d="M521.30 437.38Q545.15 356.36 629.09 347.10" fill="none" stroke="#c4506e" stroke-width="1.4"/>
<path d="M521.30 437.38Q546.75 360.53 627.69 361.91" fill="none" stroke="#c4506e" stroke-width="1.4"/>
<path d="M521.30 437.38Q548.27 367.84 621.27 383.10" fill="none" stroke="#c4506e" stroke-width="1.4"/>
<path d="M521.30 437.38Q548.42 369.53 619.28 387.35" fill="none" stroke="#c4506e" stroke-width="1.4"/>
</g>
<text class="s" x="393.80" y="426.80" font-size="8.5" font-weight="bold">Sharing Line</text>
<rect x="395.4" y="434.1" width="10.8" height="8.4" fill="#a58eee"/>
<text class="s" x="409.10" y="440.50" font-size="8.6">WI-R</text>
<rect x="395.4" y="445.8" width="10.8" height="8.4" fill="#3aa0b5"/>
<text class="s" x="409.10" y="453.10" font-size="8.6">WS-WI-1</text>
<rect x="395.4" y="457.4" width="10.8" height="8.4" fill="#c85c78"/>
<text class="s" x="410.50" y="465.40" font-size="8.6">WS-WI-2</text>
<text class="s" x="629.50" y="426.80" font-size="8.6" font-weight="bold">Node Category</text>
<rect x="632.0" y="433.3" width="10.8" height="8.4" fill="#6f9299"/>
<text class="s" x="645.90" y="439.90" font-size="8.6">WS</text>
<rect x="632.0" y="446.0" width="10.8" height="8.4" fill="#cf5a9a"/>
<text class="s" x="645.90" y="452.60" font-size="8.6">WI</text>
<rect x="632.0" y="458.6" width="10.8" height="8.4" fill="#7090ea"/>
<text class="s" x="645.90" y="465.20" font-size="8.6">River</text>
</g>
<g id="panel-e">
<text class="s" x="15.60" y="538.20" font-size="18" font-weight="bold">e)</text>
<text class="s" x="67.50" y="535.60" font-size="9.9">Jaccard Index of Pangenome Between Sharing Pairs</text>
<rect x="275.68" y="540.90" width="7.46" height="6.06" fill="#8818c4"/>
<rect x="275.68" y="546.66" width="7.46" height="6.06" fill="#ec103e"/>
<rect x="304.34" y="546.66" width="7.46" height="6.06" fill="#ec103e"/>
<rect x="239.85" y="552.42" width="7.46" height="6.06" fill="#d3126c"/>
<rect x="261.35" y="552.42" width="7.46" height="6.06" fill="#d3126c"/>
<rect x="268.51" y="552.42" width="7.46" height="6.06" fill="#f5102c"/>
<rect x="290.01" y="552.42" width="7.46" height="6.06" fill="#c7147d"/>
<rect x="297.17" y="552.42" width="7.46" height="6.06" fill="#e6104b"/>
<rect x="239.85" y="558.17" width="7.46" height="6.06" fill="#ec103e"/>
<rect x="247.02" y="558.17" width="7.46" height="6.06" fill="#f01037"/>
<rect x="261.35" y="558.17" width="7.46" height="6.06" fill="#ff1018"/>
<rect x="268.51" y="558.17" width="7.46" height="6.06" fill="#ec103e"/>
<rect x="290.01" y="558.17" width="7.46" height="6.06" fill="#ff1018"/>
<rect x="297.17" y="558.17" width="7.46" height="6.06" fill="#fb1020"/>
<rect x="297.17" y="563.93" width="7.46" height="6.06" fill="#c31583"/>
<rect x="275.68" y="569.69" width="7.46" height="6.06" fill="#ba1692"/>
<rect x="304.34" y="569.69" width="7.46" height="6.06" fill="#c31583"/>
<rect x="304.34" y="575.45" width="7.46" height="6.06" fill="#e11055"/>
<rect x="297.17" y="581.20" width="7.46" height="6.06" fill="#ec103e"/>
<rect x="239.85" y="586.96" width="7.46" height="6.06" fill="#f31032"/>
<rect x="247.02" y="586.96" width="7.46" height="6.06" fill="#ef1039"/>
<rect x="261.35" y="586.96" width="7.46" height="6.06" fill="#f91025"/>
<rect x="268.51" y="586.96" width="7.46" height="6.06" fill="#ec103e"/>
<rect x="290.01" y="586.96" width="7.46" height="6.06" fill="#ef1039"/>
<rect x="297.17" y="586.96" width="7.46" height="6.06" fill="#ec103e"/>
<rect x="239.85" y="592.72" width="7.46" height="6.06" fill="#1010ff"/>
<rect x="261.35" y="592.72" width="7.46" height="6.06" fill="#5b16e3"/>
<rect x="268.51" y="592.72" width="7.46" height="6.06" fill="#8018cb"/>
<rect x="290.01" y="592.72" width="7.46" height="6.06" fill="#6317e0"/>
<rect x="297.17" y="592.72" width="7.46" height="6.06" fill="#5416e6"/>
<rect x="239.85" y="598.48" width="7.46" height="6.06" fill="#d3126c"/>
<rect x="247.02" y="598.48" width="7.46" height="6.06" fill="#c31583"/>
<rect x="261.35" y="598.48" width="7.46" height="6.06" fill="#d61266"/>
<rect x="268.51" y="598.48" width="7.46" height="6.06" fill="#c7147d"/>
<rect x="290.01" y="598.48" width="7.46" height="6.06" fill="#d61266"/>
<rect x="297.17" y="598.48" width="7.46" height="6.06" fill="#c7147d"/>
<rect x="239.85" y="604.23" width="7.46" height="6.06" fill="#ec103e"/>
<rect x="247.02" y="604.23" width="7.46" height="6.06" fill="#ec103e"/>
<rect x="261.35" y="604.23" width="7.46" height="6.06" fill="#ef1039"/>
<rect x="268.51" y="604.23" width="7.46" height="6.06" fill="#e11055"/>
<rect x="290.01" y="604.23" width="7.46" height="6.06" fill="#ef1039"/>
<rect x="297.17" y="604.23" width="7.46" height="6.06" fill="#e11055"/>
<rect x="275.68" y="609.99" width="7.46" height="6.06" fill="#e11055"/>
<rect x="304.34" y="609.99" width="7.46" height="6.06" fill="#ec103e"/>
<rect x="239.85" y="615.75" width="7.46" height="6.06" fill="#e11055"/>
<rect x="247.02" y="615.75" width="7.46" height="6.06" fill="#e11055"/>
<rect x="261.35" y="615.75" width="7.46" height="6.06" fill="#f5102c"/>
<rect x="268.51" y="615.75" width="7.46" height="6.06" fill="#ec103e"/>
<rect x="290.01" y="615.75" width="7.46" height="6.06" fill="#f5102c"/>
<rect x="297.17" y="615.75" width="7.46" height="6.06" fill="#ec103e"/>
<rect x="254.18" y="621.51" width="7.46" height="6.06" fill="#c7147d"/>
<rect x="282.84" y="621.51" width="7.46" height="6.06" fill="#f5102c"/>
<rect x="254.18" y="627.26" width="7.46" height="6.06" fill="#d3126c"/>
<rect x="282.84" y="627.26" width="7.46" height="6.06" fill="#f5102c"/>
<rect x="275.68" y="633.02" width="7.46" height="6.06" fill="#e11055"/>
<rect x="304.34" y="633.02" width="7.46" height="6.06" fill="#ec103e"/>
<rect x="275.68" y="638.78" width="7.46" height="6.06" fill="#ec103e"/>
<rect x="304.34" y="638.78" width="7.46" height="6.06" fill="#c31583"/>
<rect x="89.39" y="644.54" width="7.46" height="6.06" fill="#9018bd"/>
<rect x="96.56" y="644.54" width="7.46" height="6.06" fill="#9b18b3"/>
<rect x="118.05" y="650.29" width="7.46" height="6.06" fill="#b018a0"/>
<rect x="110.89" y="656.05" width="7.46" height="6.06" fill="#2312f8"/>
<rect x="103.72" y="661.81" width="7.46" height="6.06" fill="#bf1589"/>
<rect x="110.89" y="661.81" width="7.46" height="6.06" fill="#ea1044"/>
<rect x="118.05" y="661.81" width="7.46" height="6.06" fill="#a818a7"/>
<rect x="275.68" y="667.57" width="7.46" height="6.06" fill="#ba1692"/>
<rect x="304.34" y="667.57" width="7.46" height="6.06" fill="#c31583"/>
<rect x="239.85" y="673.32" width="7.46" height="6.06" fill="#ba1692"/>
<rect x="261.35" y="673.32" width="7.46" height="6.06" fill="#d3126c"/>
<rect x="268.51" y="673.32" width="7.46" height="6.06" fill="#ec103e"/>
<rect x="290.01" y="673.32" width="7.46" height="6.06" fill="#c7147d"/>
<rect x="297.17" y="673.32" width="7.46" height="6.06" fill="#c31583"/>
<rect x="239.85" y="679.08" width="7.46" height="6.06" fill="#ba1692"/>
<rect x="247.02" y="679.08" width="7.46" height="6.06" fill="#ba1692"/>
<rect x="261.35" y="679.08" width="7.46" height="6.06" fill="#d3126c"/>
<rect x="297.17" y="679.08" width="7.46" height="6.06" fill="#c31583"/>
<rect x="75.06" y="684.84" width="7.46" height="6.06" fill="#f31032"/>
<rect x="139.55" y="684.84" width="7.46" height="6.06" fill="#f01037"/>
<rect x="161.04" y="684.84" width="7.46" height="6.06" fill="#c7147d"/>
<rect x="168.21" y="684.84" width="7.46" height="6.06" fill="#7b18d0"/>
<rect x="175.37" y="684.84" width="7.46" height="6.06" fill="#e11055"/>
<rect x="218.36" y="684.84" width="7.46" height="6.06" fill="#f6102a"/>
<rect x="82.23" y="690.60" width="7.46" height="6.06" fill="#d61266"/>
<rect x="132.38" y="690.60" width="7.46" height="6.06" fill="#d61266"/>
<rect x="146.71" y="690.60" width="7.46" height="6.06" fill="#e91046"/>
<rect x="189.70" y="690.60" width="7.46" height="6.06" fill="#ec103e"/>
<rect x="196.86" y="690.60" width="7.46" height="6.06" fill="#a818a7"/>
<rect x="225.52" y="690.60" width="7.46" height="6.06" fill="#fb1020"/>
<rect x="232.69" y="690.60" width="7.46" height="6.06" fill="#a318ac"/>
<rect x="82.23" y="696.35" width="7.46" height="6.06" fill="#c7147d"/>
<rect x="125.22" y="696.35" width="7.46" height="6.06" fill="#e11055"/>
<rect x="132.38" y="696.35" width="7.46" height="6.06" fill="#d3126c"/>
<rect x="146.71" y="696.35" width="7.46" height="6.06" fill="#f31032"/>
<rect x="189.70" y="696.35" width="7.46" height="6.06" fill="#ef1039"/>
<rect x="196.86" y="696.35" width="7.46" height="6.06" fill="#b4179a"/>
<rect x="225.52" y="696.35" width="7.46" height="6.06" fill="#f5102c"/>
<rect x="232.69" y="696.35" width="7.46" height="6.06" fill="#a818a7"/>
<rect x="82.23" y="702.11" width="7.46" height="6.06" fill="#c31583"/>
<rect x="125.22" y="702.11" width="7.46" height="6.06" fill="#e11055"/>
<rect x="132.38" y="702.11" width="7.46" height="6.06" fill="#d3126c"/>
<rect x="146.71" y="702.11" width="7.46" height="6.06" fill="#f31032"/>
<rect x="189.70" y="702.11" width="7.46" height="6.06" fill="#ec103e"/>
<rect x="196.86" y="702.11" width="7.46" height="6.06" fill="#b4179a"/>
<rect x="225.52" y="702.11" width="7.46" height="6.06" fill="#f5102c"/>
<rect x="232.69" y="702.11" width="7.46" height="6.06" fill="#9b18b3"/>
<rect x="82.23" y="707.87" width="7.46" height="6.06" fill="#ba1692"/>
<rect x="125.22" y="707.87" width="7.46" height="6.06" fill="#c7147d"/>
<rect x="132.38" y="707.87" width="7.46" height="6.06" fill="#c31583"/>
<rect x="189.70" y="707.87" width="7.46" height="6.06" fill="#d61266"/>
<rect x="196.86" y="707.87" width="7.46" height="6.06" fill="#9618b8"/>
<rect x="225.52" y="707.87" width="7.46" height="6.06" fill="#ec103e"/>
<rect x="232.69" y="707.87" width="7.46" height="6.06" fill="#9618b8"/>
<rect x="82.23" y="713.63" width="7.46" height="6.06" fill="#e11055"/>
<rect x="125.22" y="713.63" width="7.46" height="6.06" fill="#e11055"/>
<rect x="132.38" y="713.63" width="7.46" height="6.06" fill="#ea1044"/>
<rect x="146.71" y="713.63" width="7.46" height="6.06" fill="#d61266"/>
<rect x="189.70" y="713.63" width="7.46" height="6.06" fill="#d61266"/>
<rect x="196.86" y="713.63" width="7.46" height="6.06" fill="#b018a0"/>
<rect x="225.52" y="713.63" width="7.46" height="6.06" fill="#ec103e"/>
<rect x="232.69" y="713.63" width="7.46" height="6.06" fill="#ab18a5"/>
<rect x="67.90" y="719.38" width="7.46" height="6.06" fill="#c31583"/>
<rect x="75.06" y="719.38" width="7.46" height="6.06" fill="#c31583"/>
<rect x="139.55" y="719.38" width="7.46" height="6.06" fill="#fb1020"/>
<rect x="153.88" y="719.38" width="7.46" height="6.06" fill="#fd101d"/>
<rect x="161.04" y="719.38" width="7.46" height="6.06" fill="#c9147b"/>
<rect x="168.21" y="719.38" width="7.46" height="6.06" fill="#3613f1"/>
<rect x="175.37" y="719.38" width="7.46" height="6.06" fill="#ef1039"/>
<rect x="182.54" y="719.38" width="7.46" height="6.06" fill="#f5102c"/>
<rect x="204.03" y="719.38" width="7.46" height="6.06" fill="#c31583"/>
<rect x="211.19" y="719.38" width="7.46" height="6.06" fill="#f5102c"/>
<rect x="218.36" y="719.38" width="7.46" height="6.06" fill="#c31583"/>
<rect x="67.90" y="725.14" width="7.46" height="6.06" fill="#c31583"/>
<rect x="75.06" y="725.14" width="7.46" height="6.06" fill="#c31583"/>
<rect x="139.55" y="725.14" width="7.46" height="6.06" fill="#fb1020"/>
<rect x="153.88" y="725.14" width="7.46" height="6.06" fill="#fd101d"/>
<rect x="161.04" y="725.14" width="7.46" height="6.06" fill="#c9147b"/>
<rect x="168.21" y="725.14" width="7.46" height="6.06" fill="#3613f1"/>
<rect x="175.37" y="725.14" width="7.46" height="6.06" fill="#ef1039"/>
<rect x="182.54" y="725.14" width="7.46" height="6.06" fill="#f5102c"/>
<rect x="204.03" y="725.14" width="7.46" height="6.06" fill="#c31583"/>
<rect x="211.19" y="725.14" width="7.46" height="6.06" fill="#f5102c"/>
<rect x="218.36" y="725.14" width="7.46" height="6.06" fill="#c31583"/>
<rect x="67.9" y="540.9" width="243.60" height="190.00" fill="none" stroke="#333" stroke-width="0.6"/>
<line x1="66.60000000000001" y1="543.78" x2="67.9" y2="543.78" stroke="#333" stroke-width="0.4"/>
<text class="s" x="65.90" y="545.28" font-size="4.7" text-anchor="end" fill="#2e2e2e">Wnew4R–barcode45</text>
<line x1="66.60000000000001" y1="549.54" x2="67.9" y2="549.54" stroke="#333" stroke-width="0.4"/>
<text class="s" x="65.90" y="551.04" font-size="4.7" text-anchor="end" fill="#2e2e2e">Wnew4R–barcode44</text>
<line x1="66.60000000000001" y1="555.29" x2="67.9" y2="555.29" stroke="#333" stroke-width="0.4"/>
<text class="s" x="65.90" y="556.79" font-size="4.7" text-anchor="end" fill="#2e2e2e">Wnew4R–barcode43</text>
<line x1="66.60000000000001" y1="561.05" x2="67.9" y2="561.05" stroke="#333" stroke-width="0.4"/>
<text class="s" x="65.90" y="562.55" font-size="4.7" text-anchor="end" fill="#2e2e2e">Wnew4R–barcode40</text>
<line x1="66.60000000000001" y1="566.81" x2="67.9" y2="566.81" stroke="#333" stroke-width="0.4"/>
<text class="s" x="65.90" y="568.31" font-size="4.7" text-anchor="end" fill="#2e2e2e">Wnew4R–barcode36</text>
<line x1="66.60000000000001" y1="572.57" x2="67.9" y2="572.57" stroke="#333" stroke-width="0.4"/>
<text class="s" x="65.90" y="574.07" font-size="4.7" text-anchor="end" fill="#2e2e2e">Wnew4R–barcode35</text>
<line x1="66.60000000000001" y1="578.32" x2="67.9" y2="578.32" stroke="#333" stroke-width="0.4"/>
<text class="s" x="65.90" y="579.82" font-size="4.7" text-anchor="end" fill="#2e2e2e">Wnew4R–barcode33</text>
<line x1="66.60000000000001" y1="584.08" x2="67.9" y2="584.08" stroke="#333" stroke-width="0.4"/>
<text class="s" x="65.90" y="585.58" font-size="4.7" text-anchor="end" fill="#2e2e2e">Wnew4R–barcode32</text>
<line x1="66.60000000000001" y1="589.84" x2="67.9" y2="589.84" stroke="#333" stroke-width="0.4"/>
<text class="s" x="65.90" y="591.34" font-size="4.7" text-anchor="end" fill="#2e2e2e">Wnew4R–barcode24</text>
<line x1="66.60000000000001" y1="595.60" x2="67.9" y2="595.60" stroke="#333" stroke-width="0.4"/>
<text class="s" x="65.90" y="597.10" font-size="4.7" text-anchor="end" fill="#2e2e2e">Wnew4R–barcode19</text>
<line x1="66.60000000000001" y1="601.35" x2="67.9" y2="601.35" stroke="#333" stroke-width="0.4"/>
<text class="s" x="65.90" y="602.85" font-size="4.7" text-anchor="end" fill="#2e2e2e">Wnew4R–barcode16</text>
<line x1="66.60000000000001" y1="607.11" x2="67.9" y2="607.11" stroke="#333" stroke-width="0.4"/>
<text class="s" x="65.90" y="608.61" font-size="4.7" text-anchor="end" fill="#2e2e2e">Wnew4R–barcode14</text>
<line x1="66.60000000000001" y1="612.87" x2="67.9" y2="612.87" stroke="#333" stroke-width="0.4"/>
<text class="s" x="65.90" y="614.37" font-size="4.7" text-anchor="end" fill="#2e2e2e">Wnew4R–barcode13</text>
<line x1="66.60000000000001" y1="618.63" x2="67.9" y2="618.63" stroke="#333" stroke-width="0.4"/>
<text class="s" x="65.90" y="620.13" font-size="4.7" text-anchor="end" fill="#2e2e2e">Wnew4R–barcode12</text>
<line x1="66.60000000000001" y1="624.38" x2="67.9" y2="624.38" stroke="#333" stroke-width="0.4"/>
<text class="s" x="65.90" y="625.88" font-size="4.7" text-anchor="end" fill="#2e2e2e">Wnew4R–barcode08</text>
<line x1="66.60000000000001" y1="630.14" x2="67.9" y2="630.14" stroke="#333" stroke-width="0.4"/>
<text class="s" x="65.90" y="631.64" font-size="4.7" text-anchor="end" fill="#2e2e2e">Wnew4R–barcode06</text>
<line x1="66.60000000000001" y1="635.90" x2="67.9" y2="635.90" stroke="#333" stroke-width="0.4"/>
<text class="s" x="65.90" y="637.40" font-size="4.7" text-anchor="end" fill="#2e2e2e">Wnew4R–barcode03</text>
<line x1="66.60000000000001" y1="641.66" x2="67.9" y2="641.66" stroke="#333" stroke-width="0.4"/>
<text class="s" x="65.90" y="643.16" font-size="4.7" text-anchor="end" fill="#2e2e2e">Wnew4R–barcode01</text>
<line x1="66.60000000000001" y1="647.42" x2="67.9" y2="647.42" stroke="#333" stroke-width="0.4"/>
<text class="s" x="65.90" y="648.92" font-size="4.7" text-anchor="end" fill="#2e2e2e">W3R–barcode38</text>
<line x1="66.60000000000001" y1="653.17" x2="67.9" y2="653.17" stroke="#333" stroke-width="0.4"/>
<text class="s" x="65.90" y="654.67" font-size="4.7" text-anchor="end" fill="#2e2e2e">W3R–barcode23</text>
<line x1="66.60000000000001" y1="658.93" x2="67.9" y2="658.93" stroke="#333" stroke-width="0.4"/>
<text class="s" x="65.90" y="660.43" font-size="4.7" text-anchor="end" fill="#2e2e2e">W3R–barcode22</text>
<line x1="66.60000000000001" y1="664.69" x2="67.9" y2="664.69" stroke="#333" stroke-width="0.4"/>
<text class="s" x="65.90" y="666.19" font-size="4.7" text-anchor="end" fill="#2e2e2e">W3R–barcode19</text>
<line x1="66.60000000000001" y1="670.45" x2="67.9" y2="670.45" stroke="#333" stroke-width="0.4"/>
<text class="s" x="65.90" y="671.95" font-size="4.7" text-anchor="end" fill="#2e2e2e">R4R–barcode95</text>
<line x1="66.60000000000001" y1="676.20" x2="67.9" y2="676.20" stroke="#333" stroke-width="0.4"/>
<text class="s" x="65.90" y="677.70" font-size="4.7" text-anchor="end" fill="#2e2e2e">R4R–barcode94</text>
<line x1="66.60000000000001" y1="681.96" x2="67.9" y2="681.96" stroke="#333" stroke-width="0.4"/>
<text class="s" x="65.90" y="683.46" font-size="4.7" text-anchor="end" fill="#2e2e2e">R4R–barcode93</text>
<line x1="66.60000000000001" y1="687.72" x2="67.9" y2="687.72" stroke="#333" stroke-width="0.4"/>
<text class="s" x="65.90" y="689.22" font-size="4.7" text-anchor="end" fill="#2e2e2e">R4R–barcode70</text>
<line x1="66.60000000000001" y1="693.48" x2="67.9" y2="693.48" stroke="#333" stroke-width="0.4"/>
<text class="s" x="65.90" y="694.98" font-size="4.7" text-anchor="end" fill="#2e2e2e">R4R–barcode67</text>
<line x1="66.60000000000001" y1="699.23" x2="67.9" y2="699.23" stroke="#333" stroke-width="0.4"/>
<text class="s" x="65.90" y="700.73" font-size="4.7" text-anchor="end" fill="#2e2e2e">R4R–barcode56</text>
<line x1="66.60000000000001" y1="704.99" x2="67.9" y2="704.99" stroke="#333" stroke-width="0.4"/>
<text class="s" x="65.90" y="706.49" font-size="4.7" text-anchor="end" fill="#2e2e2e">R4R–barcode55</text>
<line x1="66.60000000000001" y1="710.75" x2="67.9" y2="710.75" stroke="#333" stroke-width="0.4"/>
<text class="s" x="65.90" y="712.25" font-size="4.7" text-anchor="end" fill="#2e2e2e">R4R–barcode54</text>
<line x1="66.60000000000001" y1="716.51" x2="67.9" y2="716.51" stroke="#333" stroke-width="0.4"/>
<text class="s" x="65.90" y="718.01" font-size="4.7" text-anchor="end" fill="#2e2e2e">R4R–barcode49</text>
<line x1="66.60000000000001" y1="722.26" x2="67.9" y2="722.26" stroke="#333" stroke-width="0.4"/>
<text class="s" x="65.90" y="723.76" font-size="4.7" text-anchor="end" fill="#2e2e2e">R4R–barcode18</text>
<line x1="66.60000000000001" y1="728.02" x2="67.9" y2="728.02" stroke="#333" stroke-width="0.4"/>
<text class="s" x="65.90" y="729.52" font-size="4.7" text-anchor="end" fill="#2e2e2e">R4R–barcode15</text>
<line x1="71.48" y1="730.9" x2="71.48" y2="732.1999999999999" stroke="#333" stroke-width="0.4"/>
<text class="s" x="72.98" y="733.10" font-size="4.7" text-anchor="end" fill="#2e2e2e" transform="rotate(-90.00 72.98 733.10)">R4R–barcode93</text>
<line x1="78.65" y1="730.9" x2="78.65" y2="732.1999999999999" stroke="#333" stroke-width="0.4"/>
<text class="s" x="80.15" y="733.10" font-size="4.7" text-anchor="end" fill="#2e2e2e" transform="rotate(-90.00 80.15 733.10)">R4R–barcode94</text>
<line x1="85.81" y1="730.9" x2="85.81" y2="732.1999999999999" stroke="#333" stroke-width="0.4"/>
<text class="s" x="87.31" y="733.10" font-size="4.7" text-anchor="end" fill="#2e2e2e" transform="rotate(-90.00 87.31 733.10)">R4R–barcode95</text>
<line x1="92.98" y1="730.9" x2="92.98" y2="732.1999999999999" stroke="#333" stroke-width="0.4"/>
<text class="s" x="94.48" y="733.10" font-size="4.7" text-anchor="end" fill="#2e2e2e" transform="rotate(-90.00 94.48 733.10)">W3R–barcode40</text>
<line x1="100.14" y1="730.9" x2="100.14" y2="732.1999999999999" stroke="#333" stroke-width="0.4"/>
<text class="s" x="101.64" y="733.10" font-size="4.7" text-anchor="end" fill="#2e2e2e" transform="rotate(-90.00 101.64 733.10)">W3R–barcode42</text>
<line x1="107.31" y1="730.9" x2="107.31" y2="732.1999999999999" stroke="#333" stroke-width="0.4"/>
<text class="s" x="108.81" y="733.10" font-size="4.7" text-anchor="end" fill="#2e2e2e" transform="rotate(-90.00 108.81 733.10)">W3R–barcode64</text>
<line x1="114.47" y1="730.9" x2="114.47" y2="732.1999999999999" stroke="#333" stroke-width="0.4"/>
<text class="s" x="115.97" y="733.10" font-size="4.7" text-anchor="end" fill="#2e2e2e" transform="rotate(-90.00 115.97 733.10)">W3R–barcode67</text>
<line x1="121.64" y1="730.9" x2="121.64" y2="732.1999999999999" stroke="#333" stroke-width="0.4"/>
<text class="s" x="123.14" y="733.10" font-size="4.7" text-anchor="end" fill="#2e2e2e" transform="rotate(-90.00 123.14 733.10)">W3R–barcode71</text>
<line x1="128.80" y1="730.9" x2="128.80" y2="732.1999999999999" stroke="#333" stroke-width="0.4"/>
<text class="s" x="130.30" y="733.10" font-size="4.7" text-anchor="end" fill="#2e2e2e" transform="rotate(-90.00 130.30 733.10)">Wnew4R–barcode01</text>
<line x1="135.96" y1="730.9" x2="135.96" y2="732.1999999999999" stroke="#333" stroke-width="0.4"/>
<text class="s" x="137.46" y="733.10" font-size="4.7" text-anchor="end" fill="#2e2e2e" transform="rotate(-90.00 137.46 733.10)">Wnew4R–barcode03</text>
<line x1="143.13" y1="730.9" x2="143.13" y2="732.1999999999999" stroke="#333" stroke-width="0.4"/>
<text class="s" x="144.63" y="733.10" font-size="4.7" text-anchor="end" fill="#2e2e2e" transform="rotate(-90.00 144.63 733.10)">Wnew4R–barcode12</text>
<line x1="150.29" y1="730.9" x2="150.29" y2="732.1999999999999" stroke="#333" stroke-width="0.4"/>
<text class="s" x="151.79" y="733.10" font-size="4.7" text-anchor="end" fill="#2e2e2e" transform="rotate(-90.00 151.79 733.10)">Wnew4R–barcode13</text>
<line x1="157.46" y1="730.9" x2="157.46" y2="732.1999999999999" stroke="#333" stroke-width="0.4"/>
<text class="s" x="158.96" y="733.10" font-size="4.7" text-anchor="end" fill="#2e2e2e" transform="rotate(-90.00 158.96 733.10)">Wnew4R–barcode14</text>
<line x1="164.62" y1="730.9" x2="164.62" y2="732.1999999999999" stroke="#333" stroke-width="0.4"/>
<text class="s" x="166.12" y="733.10" font-size="4.7" text-anchor="end" fill="#2e2e2e" transform="rotate(-90.00 166.12 733.10)">Wnew4R–barcode16</text>
<line x1="171.79" y1="730.9" x2="171.79" y2="732.1999999999999" stroke="#333" stroke-width="0.4"/>
<text class="s" x="173.29" y="733.10" font-size="4.7" text-anchor="end" fill="#2e2e2e" transform="rotate(-90.00 173.29 733.10)">Wnew4R–barcode19</text>
<line x1="178.95" y1="730.9" x2="178.95" y2="732.1999999999999" stroke="#333" stroke-width="0.4"/>
<text class="s" x="180.45" y="733.10" font-size="4.7" text-anchor="end" fill="#2e2e2e" transform="rotate(-90.00 180.45 733.10)">Wnew4R–barcode24</text>
<line x1="186.12" y1="730.9" x2="186.12" y2="732.1999999999999" stroke="#333" stroke-width="0.4"/>
<text class="s" x="187.62" y="733.10" font-size="4.7" text-anchor="end" fill="#2e2e2e" transform="rotate(-90.00 187.62 733.10)">Wnew4R–barcode32</text>
<line x1="193.28" y1="730.9" x2="193.28" y2="732.1999999999999" stroke="#333" stroke-width="0.4"/>
<text class="s" x="194.78" y="733.10" font-size="4.7" text-anchor="end" fill="#2e2e2e" transform="rotate(-90.00 194.78 733.10)">Wnew4R–barcode33</text>
<line x1="200.45" y1="730.9" x2="200.45" y2="732.1999999999999" stroke="#333" stroke-width="0.4"/>
<text class="s" x="201.95" y="733.10" font-size="4.7" text-anchor="end" fill="#2e2e2e" transform="rotate(-90.00 201.95 733.10)">Wnew4R–barcode35</text>
<line x1="207.61" y1="730.9" x2="207.61" y2="732.1999999999999" stroke="#333" stroke-width="0.4"/>
<text class="s" x="209.11" y="733.10" font-size="4.7" text-anchor="end" fill="#2e2e2e" transform="rotate(-90.00 209.11 733.10)">Wnew4R–barcode36</text>
<line x1="214.78" y1="730.9" x2="214.78" y2="732.1999999999999" stroke="#333" stroke-width="0.4"/>
<text class="s" x="216.28" y="733.10" font-size="4.7" text-anchor="end" fill="#2e2e2e" transform="rotate(-90.00 216.28 733.10)">Wnew4R–barcode40</text>
<line x1="221.94" y1="730.9" x2="221.94" y2="732.1999999999999" stroke="#333" stroke-width="0.4"/>
<text class="s" x="223.44" y="733.10" font-size="4.7" text-anchor="end" fill="#2e2e2e" transform="rotate(-90.00 223.44 733.10)">Wnew4R–barcode43</text>
<line x1="229.11" y1="730.9" x2="229.11" y2="732.1999999999999" stroke="#333" stroke-width="0.4"/>
<text class="s" x="230.61" y="733.10" font-size="4.7" text-anchor="end" fill="#2e2e2e" transform="rotate(-90.00 230.61 733.10)">Wnew4R–barcode44</text>
<line x1="236.27" y1="730.9" x2="236.27" y2="732.1999999999999" stroke="#333" stroke-width="0.4"/>
<text class="s" x="237.77" y="733.10" font-size="4.7" text-anchor="end" fill="#2e2e2e" transform="rotate(-90.00 237.77 733.10)">Wnew4R–barcode45</text>
<line x1="243.44" y1="730.9" x2="243.44" y2="732.1999999999999" stroke="#333" stroke-width="0.4"/>
<text class="s" x="244.94" y="733.10" font-size="4.7" text-anchor="end" fill="#2e2e2e" transform="rotate(-90.00 244.94 733.10)">Wnew4R–barcode65</text>
<line x1="250.60" y1="730.9" x2="250.60" y2="732.1999999999999" stroke="#333" stroke-width="0.4"/>
<text class="s" x="252.10" y="733.10" font-size="4.7" text-anchor="end" fill="#2e2e2e" transform="rotate(-90.00 252.10 733.10)">Wnew4R–barcode66</text>
<line x1="257.76" y1="730.9" x2="257.76" y2="732.1999999999999" stroke="#333" stroke-width="0.4"/>
<text class="s" x="259.26" y="733.10" font-size="4.7" text-anchor="end" fill="#2e2e2e" transform="rotate(-90.00 259.26 733.10)">Wnew4R–barcode67</text>
<line x1="264.93" y1="730.9" x2="264.93" y2="732.1999999999999" stroke="#333" stroke-width="0.4"/>
<text class="s" x="266.43" y="733.10" font-size="4.7" text-anchor="end" fill="#2e2e2e" transform="rotate(-90.00 266.43 733.10)">Wnew4R–barcode68</text>
<line x1="272.09" y1="730.9" x2="272.09" y2="732.1999999999999" stroke="#333" stroke-width="0.4"/>
<text class="s" x="273.59" y="733.10" font-size="4.7" text-anchor="end" fill="#2e2e2e" transform="rotate(-90.00 273.59 733.10)">Wnew4R–barcode69</text>
<line x1="279.26" y1="730.9" x2="279.26" y2="732.1999999999999" stroke="#333" stroke-width="0.4"/>
<text class="s" x="280.76" y="733.10" font-size="4.7" text-anchor="end" fill="#2e2e2e" transform="rotate(-90.00 280.76 733.10)">Wnew4R–barcode75</text>
<line x1="286.42" y1="730.9" x2="286.42" y2="732.1999999999999" stroke="#333" stroke-width="0.4"/>
<text class="s" x="287.92" y="733.10" font-size="4.7" text-anchor="end" fill="#2e2e2e" transform="rotate(-90.00 287.92 733.10)">Wnew4R–barcode80</text>
<line x1="293.59" y1="730.9" x2="293.59" y2="732.1999999999999" stroke="#333" stroke-width="0.4"/>
<text class="s" x="295.09" y="733.10" font-size="4.7" text-anchor="end" fill="#2e2e2e" transform="rotate(-90.00 295.09 733.10)">Wnew4R–barcode81</text>
<line x1="300.75" y1="730.9" x2="300.75" y2="732.1999999999999" stroke="#333" stroke-width="0.4"/>
<text class="s" x="302.25" y="733.10" font-size="4.7" text-anchor="end" fill="#2e2e2e" transform="rotate(-90.00 302.25 733.10)">Wnew4R–barcode84</text>
<line x1="307.92" y1="730.9" x2="307.92" y2="732.1999999999999" stroke="#333" stroke-width="0.4"/>
<text class="s" x="309.42" y="733.10" font-size="4.7" text-anchor="end" fill="#2e2e2e" transform="rotate(-90.00 309.42 733.10)">Wnew4R–barcode85</text>
<text class="s" x="20.30" y="635.00" font-size="10.4" text-anchor="middle" transform="rotate(-90.00 20.30 635.00)" dominant-baseline="central">Strain</text>
<text class="s" x="189.70" y="780.20" font-size="10.4" text-anchor="middle">Strain</text>
<defs><linearGradient id="ge" x1="0" y1="0" x2="0" y2="1"><stop offset="0" stop-color="#ff1018"/><stop offset="0.25" stop-color="#e01058"/><stop offset="0.5" stop-color="#b018a0"/><stop offset="0.75" stop-color="#6e18dc"/><stop offset="1" stop-color="#1010ff"/></linearGradient></defs>
<rect x="320.0" y="618.4" width="8.7" height="44.2" fill="url(#ge)"/>
<text class="n" x="320.20" y="614.20" font-size="5.0">JI value</text>
<line x1="320.0" y1="619.6" x2="321.7" y2="619.6" stroke="#fff" stroke-width="0.3"/>
<line x1="327.0" y1="619.6" x2="328.7" y2="619.6" stroke="#fff" stroke-width="0.3"/>
<text class="n" x="331.80" y="620.95" font-size="3.8" fill="#222">0.98</text>
<line x1="320.0" y1="629.3" x2="321.7" y2="629.3" stroke="#fff" stroke-width="0.3"/>
<line x1="327.0" y1="629.3" x2="328.7" y2="629.3" stroke="#fff" stroke-width="0.3"/>
<text class="n" x="331.80" y="630.65" font-size="3.8" fill="#222">0.96</text>
<line x1="320.0" y1="638.9" x2="321.7" y2="638.9" stroke="#fff" stroke-width="0.3"/>
<line x1="327.0" y1="638.9" x2="328.7" y2="638.9" stroke="#fff" stroke-width="0.3"/>
<text class="n" x="331.80" y="640.25" font-size="3.8" fill="#222">0.94</text>
<line x1="320.0" y1="648.6" x2="321.7" y2="648.6" stroke="#fff" stroke-width="0.3"/>
<line x1="327.0" y1="648.6" x2="328.7" y2="648.6" stroke="#fff" stroke-width="0.3"/>
<text class="n" x="331.80" y="649.95" font-size="3.8" fill="#222">0.92</text>
<line x1="320.0" y1="658.3" x2="321.7" y2="658.3" stroke="#fff" stroke-width="0.3"/>
<line x1="327.0" y1="658.3" x2="328.7" y2="658.3" stroke="#fff" stroke-width="0.3"/>
<text class="n" x="331.80" y="659.65" font-size="3.8" fill="#222">0.90</text>
</g>
<g id="panel-f">
<text class="s" x="351.80" y="538.20" font-size="18" font-weight="bold">f)</text>
<text class="s" x="410.30" y="535.60" font-size="9.9">Jaccard Index of Resistome Between Sharing Pairs</text>
<rect x="619.91" y="540.90" width="7.52" height="6.06" fill="#ff8080"/>
<rect x="619.91" y="546.66" width="7.52" height="6.06" fill="#709030"/>
<rect x="648.78" y="546.66" width="7.52" height="6.06" fill="#19900f"/>
<rect x="583.82" y="552.42" width="7.52" height="6.06" fill="#e28068"/>
<rect x="605.48" y="552.42" width="7.52" height="6.06" fill="#e28068"/>
<rect x="612.69" y="552.42" width="7.52" height="6.06" fill="#ff8080"/>
<rect x="634.35" y="552.42" width="7.52" height="6.06" fill="#ff8080"/>
<rect x="641.56" y="552.42" width="7.52" height="6.06" fill="#ff8080"/>
<rect x="583.82" y="558.17" width="7.52" height="6.06" fill="#e28068"/>
<rect x="591.04" y="558.17" width="7.52" height="6.06" fill="#ff8080"/>
<rect x="605.48" y="558.17" width="7.52" height="6.06" fill="#e28068"/>
<rect x="612.69" y="558.17" width="7.52" height="6.06" fill="#ff8080"/>
<rect x="634.35" y="558.17" width="7.52" height="6.06" fill="#ff8080"/>
<rect x="641.56" y="558.17" width="7.52" height="6.06" fill="#ff8080"/>
<rect x="641.56" y="563.93" width="7.52" height="6.06" fill="#ff8080"/>
<rect x="619.91" y="569.69" width="7.52" height="6.06" fill="#ff8080"/>
<rect x="648.78" y="569.69" width="7.52" height="6.06" fill="#d4815d"/>
<rect x="648.78" y="575.45" width="7.52" height="6.06" fill="#d88060"/>
<rect x="641.56" y="581.20" width="7.52" height="6.06" fill="#ff8080"/>
<rect x="583.82" y="586.96" width="7.52" height="6.06" fill="#ff8080"/>
<rect x="591.04" y="586.96" width="7.52" height="6.06" fill="#d88060"/>
<rect x="605.48" y="586.96" width="7.52" height="6.06" fill="#ff8080"/>
<rect x="612.69" y="586.96" width="7.52" height="6.06" fill="#e28068"/>
<rect x="634.35" y="586.96" width="7.52" height="6.06" fill="#ec8070"/>
<rect x="641.56" y="586.96" width="7.52" height="6.06" fill="#ec8070"/>
<rect x="583.82" y="592.72" width="7.52" height="6.06" fill="#e28068"/>
<rect x="605.48" y="592.72" width="7.52" height="6.06" fill="#e28068"/>
<rect x="612.69" y="592.72" width="7.52" height="6.06" fill="#ff8080"/>
<rect x="634.35" y="592.72" width="7.52" height="6.06" fill="#ff8080"/>
<rect x="641.56" y="592.72" width="7.52" height="6.06" fill="#ff8080"/>
<rect x="583.82" y="598.48" width="7.52" height="6.06" fill="#e28068"/>
<rect x="591.04" y="598.48" width="7.52" height="6.06" fill="#ff8080"/>
<rect x="605.48" y="598.48" width="7.52" height="6.06" fill="#e28068"/>
<rect x="612.69" y="598.48" width="7.52" height="6.06" fill="#ff8080"/>
<rect x="634.35" y="598.48" width="7.52" height="6.06" fill="#ff8080"/>
<rect x="641.56" y="598.48" width="7.52" height="6.06" fill="#ff8080"/>
<rect x="583.82" y="604.23" width="7.52" height="6.06" fill="#e28068"/>
<rect x="591.04" y="604.23" width="7.52" height="6.06" fill="#ff8080"/>
<rect x="605.48" y="604.23" width="7.52" height="6.06" fill="#e28068"/>
<rect x="612.69" y="604.23" width="7.52" height="6.06" fill="#ff8080"/>
<rect x="634.35" y="604.23" width="7.52" height="6.06" fill="#ff8080"/>
<rect x="641.56" y="604.23" width="7.52" height="6.06" fill="#ff8080"/>
<rect x="619.91" y="609.99" width="7.52" height="6.06" fill="#ff8080"/>
<rect x="648.78" y="609.99" width="7.52" height="6.06" fill="#d88060"/>
<rect x="583.82" y="615.75" width="7.52" height="6.06" fill="#e28068"/>
<rect x="591.04" y="615.75" width="7.52" height="6.06" fill="#ff8080"/>
<rect x="605.48" y="615.75" width="7.52" height="6.06" fill="#e28068"/>
<rect x="612.69" y="615.75" width="7.52" height="6.06" fill="#ff8080"/>
<rect x="634.35" y="615.75" width="7.52" height="6.06" fill="#ff8080"/>
<rect x="641.56" y="615.75" width="7.52" height="6.06" fill="#ff8080"/>
<rect x="598.26" y="621.51" width="7.52" height="6.06" fill="#ff8080"/>
<rect x="627.13" y="621.51" width="7.52" height="6.06" fill="#ff8080"/>
<rect x="598.26" y="627.26" width="7.52" height="6.06" fill="#ff8080"/>
<rect x="627.13" y="627.26" width="7.52" height="6.06" fill="#ff8080"/>
<rect x="619.91" y="633.02" width="7.52" height="6.06" fill="#d4815d"/>
<rect x="648.78" y="633.02" width="7.52" height="6.06" fill="#a89040"/>
<rect x="619.91" y="638.78" width="7.52" height="6.06" fill="#d4815d"/>
<rect x="648.78" y="638.78" width="7.52" height="6.06" fill="#a89040"/>
<rect x="432.25" y="644.54" width="7.52" height="6.06" fill="#9d903d"/>
<rect x="439.47" y="644.54" width="7.52" height="6.06" fill="#e28068"/>
<rect x="461.12" y="650.29" width="7.52" height="6.06" fill="#ff8080"/>
<rect x="453.91" y="656.05" width="7.52" height="6.06" fill="#ff8080"/>
<rect x="446.69" y="661.81" width="7.52" height="6.06" fill="#ff8080"/>
<rect x="453.91" y="661.81" width="7.52" height="6.06" fill="#ff8080"/>
<rect x="461.12" y="661.81" width="7.52" height="6.06" fill="#ff8080"/>
<rect x="619.91" y="667.57" width="7.52" height="6.06" fill="#c98556"/>
<rect x="648.78" y="667.57" width="7.52" height="6.06" fill="#a89040"/>
<rect x="583.82" y="673.32" width="7.52" height="6.06" fill="#ec8070"/>
<rect x="605.48" y="673.32" width="7.52" height="6.06" fill="#e28068"/>
<rect x="612.69" y="673.32" width="7.52" height="6.06" fill="#ff8080"/>
<rect x="634.35" y="673.32" width="7.52" height="6.06" fill="#ff8080"/>
<rect x="641.56" y="673.32" width="7.52" height="6.06" fill="#ff8080"/>
<rect x="583.82" y="679.08" width="7.52" height="6.06" fill="#ec8070"/>
<rect x="591.04" y="679.08" width="7.52" height="6.06" fill="#ff8080"/>
<rect x="605.48" y="679.08" width="7.52" height="6.06" fill="#e28068"/>
<rect x="641.56" y="679.08" width="7.52" height="6.06" fill="#ff8080"/>
<rect x="417.82" y="684.84" width="7.52" height="6.06" fill="#ff8080"/>
<rect x="482.78" y="684.84" width="7.52" height="6.06" fill="#ff8080"/>
<rect x="504.43" y="684.84" width="7.52" height="6.06" fill="#ff8080"/>
<rect x="511.65" y="684.84" width="7.52" height="6.06" fill="#ff8080"/>
<rect x="518.86" y="684.84" width="7.52" height="6.06" fill="#d88060"/>
<rect x="562.17" y="684.84" width="7.52" height="6.06" fill="#ff8080"/>
<rect x="425.04" y="690.60" width="7.52" height="6.06" fill="#329018"/>
<rect x="475.56" y="690.60" width="7.52" height="6.06" fill="#329018"/>
<rect x="489.99" y="690.60" width="7.52" height="6.06" fill="#709030"/>
<rect x="533.30" y="690.60" width="7.52" height="6.06" fill="#749031"/>
<rect x="540.52" y="690.60" width="7.52" height="6.06" fill="#709030"/>
<rect x="569.39" y="690.60" width="7.52" height="6.06" fill="#709030"/>
<rect x="576.61" y="690.60" width="7.52" height="6.06" fill="#749031"/>
<rect x="425.04" y="696.35" width="7.52" height="6.06" fill="#d88060"/>
<rect x="468.34" y="696.35" width="7.52" height="6.06" fill="#d4815d"/>
<rect x="475.56" y="696.35" width="7.52" height="6.06" fill="#d88060"/>
<rect x="489.99" y="696.35" width="7.52" height="6.06" fill="#ff8080"/>
<rect x="533.30" y="696.35" width="7.52" height="6.06" fill="#ff8080"/>
<rect x="540.52" y="696.35" width="7.52" height="6.06" fill="#ff8080"/>
<rect x="569.39" y="696.35" width="7.52" height="6.06" fill="#709030"/>
<rect x="576.61" y="696.35" width="7.52" height="6.06" fill="#ff8080"/>
<rect x="425.04" y="702.11" width="7.52" height="6.06" fill="#d88060"/>
<rect x="468.34" y="702.11" width="7.52" height="6.06" fill="#d4815d"/>
<rect x="475.56" y="702.11" width="7.52" height="6.06" fill="#d88060"/>
<rect x="489.99" y="702.11" width="7.52" height="6.06" fill="#ff8080"/>
<rect x="533.30" y="702.11" width="7.52" height="6.06" fill="#ff8080"/>
<rect x="540.52" y="702.11" width="7.52" height="6.06" fill="#ff8080"/>
<rect x="569.39" y="702.11" width="7.52" height="6.06" fill="#709030"/>
<rect x="576.61" y="702.11" width="7.52" height="6.06" fill="#ff8080"/>
<rect x="425.04" y="707.87" width="7.52" height="6.06" fill="#3c901c"/>
<rect x="468.34" y="707.87" width="7.52" height="6.06" fill="#359019"/>
<rect x="475.56" y="707.87" width="7.52" height="6.06" fill="#359019"/>
<rect x="533.30" y="707.87" width="7.52" height="6.06" fill="#749031"/>
<rect x="540.52" y="707.87" width="7.52" height="6.06" fill="#709030"/>
<rect x="569.39" y="707.87" width="7.52" height="6.06" fill="#e28068"/>
<rect x="576.61" y="707.87" width="7.52" height="6.06" fill="#749031"/>
<rect x="425.04" y="713.63" width="7.52" height="6.06" fill="#ff8080"/>
<rect x="468.34" y="713.63" width="7.52" height="6.06" fill="#f58078"/>
<rect x="475.56" y="713.63" width="7.52" height="6.06" fill="#ff8080"/>
<rect x="489.99" y="713.63" width="7.52" height="6.06" fill="#c98556"/>
<rect x="533.30" y="713.63" width="7.52" height="6.06" fill="#d4815d"/>
<rect x="540.52" y="713.63" width="7.52" height="6.06" fill="#d4815d"/>
<rect x="569.39" y="713.63" width="7.52" height="6.06" fill="#089008"/>
<rect x="576.61" y="713.63" width="7.52" height="6.06" fill="#d88060"/>
<rect x="410.60" y="719.38" width="7.52" height="6.06" fill="#ff8080"/>
<rect x="417.82" y="719.38" width="7.52" height="6.06" fill="#ff8080"/>
<rect x="482.78" y="719.38" width="7.52" height="6.06" fill="#ff8080"/>
<rect x="497.21" y="719.38" width="7.52" height="6.06" fill="#ff8080"/>
<rect x="504.43" y="719.38" width="7.52" height="6.06" fill="#ff8080"/>
<rect x="511.65" y="719.38" width="7.52" height="6.06" fill="#ff8080"/>
<rect x="518.86" y="719.38" width="7.52" height="6.06" fill="#d88060"/>
<rect x="526.08" y="719.38" width="7.52" height="6.06" fill="#ff8080"/>
<rect x="547.74" y="719.38" width="7.52" height="6.06" fill="#ff8080"/>
<rect x="554.95" y="719.38" width="7.52" height="6.06" fill="#ff8080"/>
<rect x="562.17" y="719.38" width="7.52" height="6.06" fill="#ff8080"/>
<rect x="410.60" y="725.14" width="7.52" height="6.06" fill="#ff8080"/>
<rect x="417.82" y="725.14" width="7.52" height="6.06" fill="#ff8080"/>
<rect x="482.78" y="725.14" width="7.52" height="6.06" fill="#ff8080"/>
<rect x="497.21" y="725.14" width="7.52" height="6.06" fill="#ff8080"/>
<rect x="504.43" y="725.14" width="7.52" height="6.06" fill="#ff8080"/>
<rect x="511.65" y="725.14" width="7.52" height="6.06" fill="#ff8080"/>
<rect x="518.86" y="725.14" width="7.52" height="6.06" fill="#d88060"/>
<rect x="526.08" y="725.14" width="7.52" height="6.06" fill="#ff8080"/>
<rect x="547.74" y="725.14" width="7.52" height="6.06" fill="#ff8080"/>
<rect x="554.95" y="725.14" width="7.52" height="6.06" fill="#ff8080"/>
<rect x="562.17" y="725.14" width="7.52" height="6.06" fill="#ff8080"/>
<rect x="410.6" y="540.9" width="245.40" height="190.00" fill="none" stroke="#333" stroke-width="0.6"/>
<line x1="409.3" y1="543.78" x2="410.6" y2="543.78" stroke="#333" stroke-width="0.4"/>
<text class="s" x="408.60" y="545.28" font-size="4.7" text-anchor="end" fill="#2e2e2e">Wnew4R–barcode45</text>
<line x1="409.3" y1="549.54" x2="410.6" y2="549.54" stroke="#333" stroke-width="0.4"/>
<text class="s" x="408.60" y="551.04" font-size="4.7" text-anchor="end" fill="#2e2e2e">Wnew4R–barcode44</text>
<line x1="409.3" y1="555.29" x2="410.6" y2="555.29" stroke="#333" stroke-width="0.4"/>
<text class="s" x="408.60" y="556.79" font-size="4.7" text-anchor="end" fill="#2e2e2e">Wnew4R–barcode43</text>
<line x1="409.3" y1="561.05" x2="410.6" y2="561.05" stroke="#333" stroke-width="0.4"/>
<text class="s" x="408.60" y="562.55" font-size="4.7" text-anchor="end" fill="#2e2e2e">Wnew4R–barcode40</text>
<line x1="409.3" y1="566.81" x2="410.6" y2="566.81" stroke="#333" stroke-width="0.4"/>
<text class="s" x="408.60" y="568.31" font-size="4.7" text-anchor="end" fill="#2e2e2e">Wnew4R–barcode36</text>
<line x1="409.3" y1="572.57" x2="410.6" y2="572.57" stroke="#333" stroke-width="0.4"/>
<text class="s" x="408.60" y="574.07" font-size="4.7" text-anchor="end" fill="#2e2e2e">Wnew4R–barcode35</text>
<line x1="409.3" y1="578.32" x2="410.6" y2="578.32" stroke="#333" stroke-width="0.4"/>
<text class="s" x="408.60" y="579.82" font-size="4.7" text-anchor="end" fill="#2e2e2e">Wnew4R–barcode33</text>
<line x1="409.3" y1="584.08" x2="410.6" y2="584.08" stroke="#333" stroke-width="0.4"/>
<text class="s" x="408.60" y="585.58" font-size="4.7" text-anchor="end" fill="#2e2e2e">Wnew4R–barcode32</text>
<line x1="409.3" y1="589.84" x2="410.6" y2="589.84" stroke="#333" stroke-width="0.4"/>
<text class="s" x="408.60" y="591.34" font-size="4.7" text-anchor="end" fill="#2e2e2e">Wnew4R–barcode24</text>
<line x1="409.3" y1="595.60" x2="410.6" y2="595.60" stroke="#333" stroke-width="0.4"/>
<text class="s" x="408.60" y="597.10" font-size="4.7" text-anchor="end" fill="#2e2e2e">Wnew4R–barcode19</text>
<line x1="409.3" y1="601.35" x2="410.6" y2="601.35" stroke="#333" stroke-width="0.4"/>
<text class="s" x="408.60" y="602.85" font-size="4.7" text-anchor="end" fill="#2e2e2e">Wnew4R–barcode16</text>
<line x1="409.3" y1="607.11" x2="410.6" y2="607.11" stroke="#333" stroke-width="0.4"/>
<text class="s" x="408.60" y="608.61" font-size="4.7" text-anchor="end" fill="#2e2e2e">Wnew4R–barcode14</text>
<line x1="409.3" y1="612.87" x2="410.6" y2="612.87" stroke="#333" stroke-width="0.4"/>
<text class="s" x="408.60" y="614.37" font-size="4.7" text-anchor="end" fill="#2e2e2e">Wnew4R–barcode13</text>
<line x1="409.3" y1="618.63" x2="410.6" y2="618.63" stroke="#333" stroke-width="0.4"/>
<text class="s" x="408.60" y="620.13" font-size="4.7" text-anchor="end" fill="#2e2e2e">Wnew4R–barcode12</text>
<line x1="409.3" y1="624.38" x2="410.6" y2="624.38" stroke="#333" stroke-width="0.4"/>
<text class="s" x="408.60" y="625.88" font-size="4.7" text-anchor="end" fill="#2e2e2e">Wnew4R–barcode08</text>
<line x1="409.3" y1="630.14" x2="410.6" y2="630.14" stroke="#333" stroke-width="0.4"/>
<text class="s" x="408.60" y="631.64" font-size="4.7" text-anchor="end" fill="#2e2e2e">Wnew4R–barcode06</text>
<line x1="409.3" y1="635.90" x2="410.6" y2="635.90" stroke="#333" stroke-width="0.4"/>
<text class="s" x="408.60" y="637.40" font-size="4.7" text-anchor="end" fill="#2e2e2e">Wnew4R–barcode03</text>
<line x1="409.3" y1="641.66" x2="410.6" y2="641.66" stroke="#333" stroke-width="0.4"/>
<text class="s" x="408.60" y="643.16" font-size="4.7" text-anchor="end" fill="#2e2e2e">Wnew4R–barcode01</text>
<line x1="409.3" y1="647.42" x2="410.6" y2="647.42" stroke="#333" stroke-width="0.4"/>
<text class="s" x="408.60" y="648.92" font-size="4.7" text-anchor="end" fill="#2e2e2e">W3R–barcode38</text>
<line x1="409.3" y1="653.17" x2="410.6" y2="653.17" stroke="#333" stroke-width="0.4"/>
<text class="s" x="408.60" y="654.67" font-size="4.7" text-anchor="end" fill="#2e2e2e">W3R–barcode23</text>
<line x1="409.3" y1="658.93" x2="410.6" y2="658.93" stroke="#333" stroke-width="0.4"/>
<text class="s" x="408.60" y="660.43" font-size="4.7" text-anchor="end" fill="#2e2e2e">W3R–barcode22</text>
<line x1="409.3" y1="664.69" x2="410.6" y2="664.69" stroke="#333" stroke-width="0.4"/>
<text class="s" x="408.60" y="666.19" font-size="4.7" text-anchor="end" fill="#2e2e2e">W3R–barcode19</text>
<line x1="409.3" y1="670.45" x2="410.6" y2="670.45" stroke="#333" stroke-width="0.4"/>
<text class="s" x="408.60" y="671.95" font-size="4.7" text-anchor="end" fill="#2e2e2e">R4R–barcode95</text>
<line x1="409.3" y1="676.20" x2="410.6" y2="676.20" stroke="#333" stroke-width="0.4"/>
<text class="s" x="408.60" y="677.70" font-size="4.7" text-anchor="end" fill="#2e2e2e">R4R–barcode94</text>
<line x1="409.3" y1="681.96" x2="410.6" y2="681.96" stroke="#333" stroke-width="0.4"/>
<text class="s" x="408.60" y="683.46" font-size="4.7" text-anchor="end" fill="#2e2e2e">R4R–barcode93</text>
<line x1="409.3" y1="687.72" x2="410.6" y2="687.72" stroke="#333" stroke-width="0.4"/>
<text class="s" x="408.60" y="689.22" font-size="4.7" text-anchor="end" fill="#2e2e2e">R4R–barcode70</text>
<line x1="409.3" y1="693.48" x2="410.6" y2="693.48" stroke="#333" stroke-width="0.4"/>
<text class="s" x="408.60" y="694.98" font-size="4.7" text-anchor="end" fill="#2e2e2e">R4R–barcode67</text>
<line x1="409.3" y1="699.23" x2="410.6" y2="699.23" stroke="#333" stroke-width="0.4"/>
<text class="s" x="408.60" y="700.73" font-size="4.7" text-anchor="end" fill="#2e2e2e">R4R–barcode56</text>
<line x1="409.3" y1="704.99" x2="410.6" y2="704.99" stroke="#333" stroke-width="0.4"/>
<text class="s" x="408.60" y="706.49" font-size="4.7" text-anchor="end" fill="#2e2e2e">R4R–barcode55</text>
<line x1="409.3" y1="710.75" x2="410.6" y2="710.75" stroke="#333" stroke-width="0.4"/>
<text class="s" x="408.60" y="712.25" font-size="4.7" text-anchor="end" fill="#2e2e2e">R4R–barcode54</text>
<line x1="409.3" y1="716.51" x2="410.6" y2="716.51" stroke="#333" stroke-width="0.4"/>
<text class="s" x="408.60" y="718.01" font-size="4.7" text-anchor="end" fill="#2e2e2e">R4R–barcode49</text>
<line x1="409.3" y1="722.26" x2="410.6" y2="722.26" stroke="#333" stroke-width="0.4"/>
<text class="s" x="408.60" y="723.76" font-size="4.7" text-anchor="end" fill="#2e2e2e">R4R–barcode18</text>
<line x1="409.3" y1="728.02" x2="410.6" y2="728.02" stroke="#333" stroke-width="0.4"/>
<text class="s" x="408.60" y="729.52" font-size="4.7" text-anchor="end" fill="#2e2e2e">R4R–barcode15</text>
<line x1="414.21" y1="730.9" x2="414.21" y2="732.1999999999999" stroke="#333" stroke-width="0.4"/>
<text class="s" x="415.71" y="733.10" font-size="4.7" text-anchor="end" fill="#2e2e2e" transform="rotate(-90.00 415.71 733.10)">R4R–barcode93</text>
<line x1="421.43" y1="730.9" x2="421.43" y2="732.1999999999999" stroke="#333" stroke-width="0.4"/>
<text class="s" x="422.93" y="733.10" font-size="4.7" text-anchor="end" fill="#2e2e2e" transform="rotate(-90.00 422.93 733.10)">R4R–barcode94</text>
<line x1="428.64" y1="730.9" x2="428.64" y2="732.1999999999999" stroke="#333" stroke-width="0.4"/>
<text class="s" x="430.14" y="733.10" font-size="4.7" text-anchor="end" fill="#2e2e2e" transform="rotate(-90.00 430.14 733.10)">R4R–barcode95</text>
<line x1="435.86" y1="730.9" x2="435.86" y2="732.1999999999999" stroke="#333" stroke-width="0.4"/>
<text class="s" x="437.36" y="733.10" font-size="4.7" text-anchor="end" fill="#2e2e2e" transform="rotate(-90.00 437.36 733.10)">W3R–barcode40</text>
<line x1="443.08" y1="730.9" x2="443.08" y2="732.1999999999999" stroke="#333" stroke-width="0.4"/>
<text class="s" x="444.58" y="733.10" font-size="4.7" text-anchor="end" fill="#2e2e2e" transform="rotate(-90.00 444.58 733.10)">W3R–barcode42</text>
<line x1="450.30" y1="730.9" x2="450.30" y2="732.1999999999999" stroke="#333" stroke-width="0.4"/>
<text class="s" x="451.80" y="733.10" font-size="4.7" text-anchor="end" fill="#2e2e2e" transform="rotate(-90.00 451.80 733.10)">W3R–barcode64</text>
<line x1="457.51" y1="730.9" x2="457.51" y2="732.1999999999999" stroke="#333" stroke-width="0.4"/>
<text class="s" x="459.01" y="733.10" font-size="4.7" text-anchor="end" fill="#2e2e2e" transform="rotate(-90.00 459.01 733.10)">W3R–barcode67</text>
<line x1="464.73" y1="730.9" x2="464.73" y2="732.1999999999999" stroke="#333" stroke-width="0.4"/>
<text class="s" x="466.23" y="733.10" font-size="4.7" text-anchor="end" fill="#2e2e2e" transform="rotate(-90.00 466.23 733.10)">W3R–barcode71</text>
<line x1="471.95" y1="730.9" x2="471.95" y2="732.1999999999999" stroke="#333" stroke-width="0.4"/>
<text class="s" x="473.45" y="733.10" font-size="4.7" text-anchor="end" fill="#2e2e2e" transform="rotate(-90.00 473.45 733.10)">Wnew4R–barcode01</text>
<line x1="479.17" y1="730.9" x2="479.17" y2="732.1999999999999" stroke="#333" stroke-width="0.4"/>
<text class="s" x="480.67" y="733.10" font-size="4.7" text-anchor="end" fill="#2e2e2e" transform="rotate(-90.00 480.67 733.10)">Wnew4R–barcode03</text>
<line x1="486.39" y1="730.9" x2="486.39" y2="732.1999999999999" stroke="#333" stroke-width="0.4"/>
<text class="s" x="487.89" y="733.10" font-size="4.7" text-anchor="end" fill="#2e2e2e" transform="rotate(-90.00 487.89 733.10)">Wnew4R–barcode12</text>
<line x1="493.60" y1="730.9" x2="493.60" y2="732.1999999999999" stroke="#333" stroke-width="0.4"/>
<text class="s" x="495.10" y="733.10" font-size="4.7" text-anchor="end" fill="#2e2e2e" transform="rotate(-90.00 495.10 733.10)">Wnew4R–barcode13</text>
<line x1="500.82" y1="730.9" x2="500.82" y2="732.1999999999999" stroke="#333" stroke-width="0.4"/>
<text class="s" x="502.32" y="733.10" font-size="4.7" text-anchor="end" fill="#2e2e2e" transform="rotate(-90.00 502.32 733.10)">Wnew4R–barcode14</text>
<line x1="508.04" y1="730.9" x2="508.04" y2="732.1999999999999" stroke="#333" stroke-width="0.4"/>
<text class="s" x="509.54" y="733.10" font-size="4.7" text-anchor="end" fill="#2e2e2e" transform="rotate(-90.00 509.54 733.10)">Wnew4R–barcode16</text>
<line x1="515.26" y1="730.9" x2="515.26" y2="732.1999999999999" stroke="#333" stroke-width="0.4"/>
<text class="s" x="516.76" y="733.10" font-size="4.7" text-anchor="end" fill="#2e2e2e" transform="rotate(-90.00 516.76 733.10)">Wnew4R–barcode19</text>
<line x1="522.47" y1="730.9" x2="522.47" y2="732.1999999999999" stroke="#333" stroke-width="0.4"/>
<text class="s" x="523.97" y="733.10" font-size="4.7" text-anchor="end" fill="#2e2e2e" transform="rotate(-90.00 523.97 733.10)">Wnew4R–barcode24</text>
<line x1="529.69" y1="730.9" x2="529.69" y2="732.1999999999999" stroke="#333" stroke-width="0.4"/>
<text class="s" x="531.19" y="733.10" font-size="4.7" text-anchor="end" fill="#2e2e2e" transform="rotate(-90.00 531.19 733.10)">Wnew4R–barcode32</text>
<line x1="536.91" y1="730.9" x2="536.91" y2="732.1999999999999" stroke="#333" stroke-width="0.4"/>
<text class="s" x="538.41" y="733.10" font-size="4.7" text-anchor="end" fill="#2e2e2e" transform="rotate(-90.00 538.41 733.10)">Wnew4R–barcode33</text>
<line x1="544.13" y1="730.9" x2="544.13" y2="732.1999999999999" stroke="#333" stroke-width="0.4"/>
<text class="s" x="545.63" y="733.10" font-size="4.7" text-anchor="end" fill="#2e2e2e" transform="rotate(-90.00 545.63 733.10)">Wnew4R–barcode35</text>
<line x1="551.34" y1="730.9" x2="551.34" y2="732.1999999999999" stroke="#333" stroke-width="0.4"/>
<text class="s" x="552.84" y="733.10" font-size="4.7" text-anchor="end" fill="#2e2e2e" transform="rotate(-90.00 552.84 733.10)">Wnew4R–barcode36</text>
<line x1="558.56" y1="730.9" x2="558.56" y2="732.1999999999999" stroke="#333" stroke-width="0.4"/>
<text class="s" x="560.06" y="733.10" font-size="4.7" text-anchor="end" fill="#2e2e2e" transform="rotate(-90.00 560.06 733.10)">Wnew4R–barcode40</text>
<line x1="565.78" y1="730.9" x2="565.78" y2="732.1999999999999" stroke="#333" stroke-width="0.4"/>
<text class="s" x="567.28" y="733.10" font-size="4.7" text-anchor="end" fill="#2e2e2e" transform="rotate(-90.00 567.28 733.10)">Wnew4R–barcode43</text>
<line x1="573.00" y1="730.9" x2="573.00" y2="732.1999999999999" stroke="#333" stroke-width="0.4"/>
<text class="s" x="574.50" y="733.10" font-size="4.7" text-anchor="end" fill="#2e2e2e" transform="rotate(-90.00 574.50 733.10)">Wnew4R–barcode44</text>
<line x1="580.21" y1="730.9" x2="580.21" y2="732.1999999999999" stroke="#333" stroke-width="0.4"/>
<text class="s" x="581.71" y="733.10" font-size="4.7" text-anchor="end" fill="#2e2e2e" transform="rotate(-90.00 581.71 733.10)">Wnew4R–barcode45</text>
<line x1="587.43" y1="730.9" x2="587.43" y2="732.1999999999999" stroke="#333" stroke-width="0.4"/>
<text class="s" x="588.93" y="733.10" font-size="4.7" text-anchor="end" fill="#2e2e2e" transform="rotate(-90.00 588.93 733.10)">Wnew4R–barcode65</text>
<line x1="594.65" y1="730.9" x2="594.65" y2="732.1999999999999" stroke="#333" stroke-width="0.4"/>
<text class="s" x="596.15" y="733.10" font-size="4.7" text-anchor="end" fill="#2e2e2e" transform="rotate(-90.00 596.15 733.10)">Wnew4R–barcode66</text>
<line x1="601.87" y1="730.9" x2="601.87" y2="732.1999999999999" stroke="#333" stroke-width="0.4"/>
<text class="s" x="603.37" y="733.10" font-size="4.7" text-anchor="end" fill="#2e2e2e" transform="rotate(-90.00 603.37 733.10)">Wnew4R–barcode67</text>
<line x1="609.09" y1="730.9" x2="609.09" y2="732.1999999999999" stroke="#333" stroke-width="0.4"/>
<text class="s" x="610.59" y="733.10" font-size="4.7" text-anchor="end" fill="#2e2e2e" transform="rotate(-90.00 610.59 733.10)">Wnew4R–barcode68</text>
<line x1="616.30" y1="730.9" x2="616.30" y2="732.1999999999999" stroke="#333" stroke-width="0.4"/>
<text class="s" x="617.80" y="733.10" font-size="4.7" text-anchor="end" fill="#2e2e2e" transform="rotate(-90.00 617.80 733.10)">Wnew4R–barcode69</text>
<line x1="623.52" y1="730.9" x2="623.52" y2="732.1999999999999" stroke="#333" stroke-width="0.4"/>
<text class="s" x="625.02" y="733.10" font-size="4.7" text-anchor="end" fill="#2e2e2e" transform="rotate(-90.00 625.02 733.10)">Wnew4R–barcode75</text>
<line x1="630.74" y1="730.9" x2="630.74" y2="732.1999999999999" stroke="#333" stroke-width="0.4"/>
<text class="s" x="632.24" y="733.10" font-size="4.7" text-anchor="end" fill="#2e2e2e" transform="rotate(-90.00 632.24 733.10)">Wnew4R–barcode80</text>
<line x1="637.96" y1="730.9" x2="637.96" y2="732.1999999999999" stroke="#333" stroke-width="0.4"/>
<text class="s" x="639.46" y="733.10" font-size="4.7" text-anchor="end" fill="#2e2e2e" transform="rotate(-90.00 639.46 733.10)">Wnew4R–barcode81</text>
<line x1="645.17" y1="730.9" x2="645.17" y2="732.1999999999999" stroke="#333" stroke-width="0.4"/>
<text class="s" x="646.67" y="733.10" font-size="4.7" text-anchor="end" fill="#2e2e2e" transform="rotate(-90.00 646.67 733.10)">Wnew4R–barcode84</text>
<line x1="652.39" y1="730.9" x2="652.39" y2="732.1999999999999" stroke="#333" stroke-width="0.4"/>
<text class="s" x="653.89" y="733.10" font-size="4.7" text-anchor="end" fill="#2e2e2e" transform="rotate(-90.00 653.89 733.10)">Wnew4R–barcode85</text>
<text class="s" x="363.00" y="635.00" font-size="10.4" text-anchor="middle" transform="rotate(-90.00 363.00 635.00)" dominant-baseline="central">Strain</text>
<text class="s" x="533.30" y="780.20" font-size="10.4" text-anchor="middle">Strain</text>
<defs><linearGradient id="gf" x1="0" y1="0" x2="0" y2="1"><stop offset="0" stop-color="#ff8080"/><stop offset="0.2" stop-color="#d88060"/><stop offset="0.45" stop-color="#a89040"/><stop offset="0.7" stop-color="#709030"/><stop offset="1" stop-color="#089008"/></linearGradient></defs>
<rect x="664.1" y="618.4" width="8.7" height="44.2" fill="url(#gf)"/>
<text class="n" x="664.10" y="614.20" font-size="5.0">JI value</text>
<line x1="664.1" y1="617.8" x2="665.8000000000001" y2="617.8" stroke="#fff" stroke-width="0.3"/>
<line x1="671.1" y1="617.8" x2="672.8000000000001" y2="617.8" stroke="#fff" stroke-width="0.3"/>
<text class="n" x="675.90" y="619.15" font-size="3.8" fill="#222">1.0</text>
<line x1="664.1" y1="630.7" x2="665.8000000000001" y2="630.7" stroke="#fff" stroke-width="0.3"/>
<line x1="671.1" y1="630.7" x2="672.8000000000001" y2="630.7" stroke="#fff" stroke-width="0.3"/>
<text class="n" x="675.90" y="632.05" font-size="3.8" fill="#222">0.9</text>
<line x1="664.1" y1="643.9" x2="665.8000000000001" y2="643.9" stroke="#fff" stroke-width="0.3"/>
<line x1="671.1" y1="643.9" x2="672.8000000000001" y2="643.9" stroke="#fff" stroke-width="0.3"/>
<text class="n" x="675.90" y="645.25" font-size="3.8" fill="#222">0.8</text>
<line x1="664.1" y1="656.3" x2="665.8000000000001" y2="656.3" stroke="#fff" stroke-width="0.3"/>
<line x1="671.1" y1="656.3" x2="672.8000000000001" y2="656.3" stroke="#fff" stroke-width="0.3"/>
<text class="n" x="675.90" y="657.65" font-size="3.8" fill="#222">0.7</text>
</g>
</svg>
</body></html>
